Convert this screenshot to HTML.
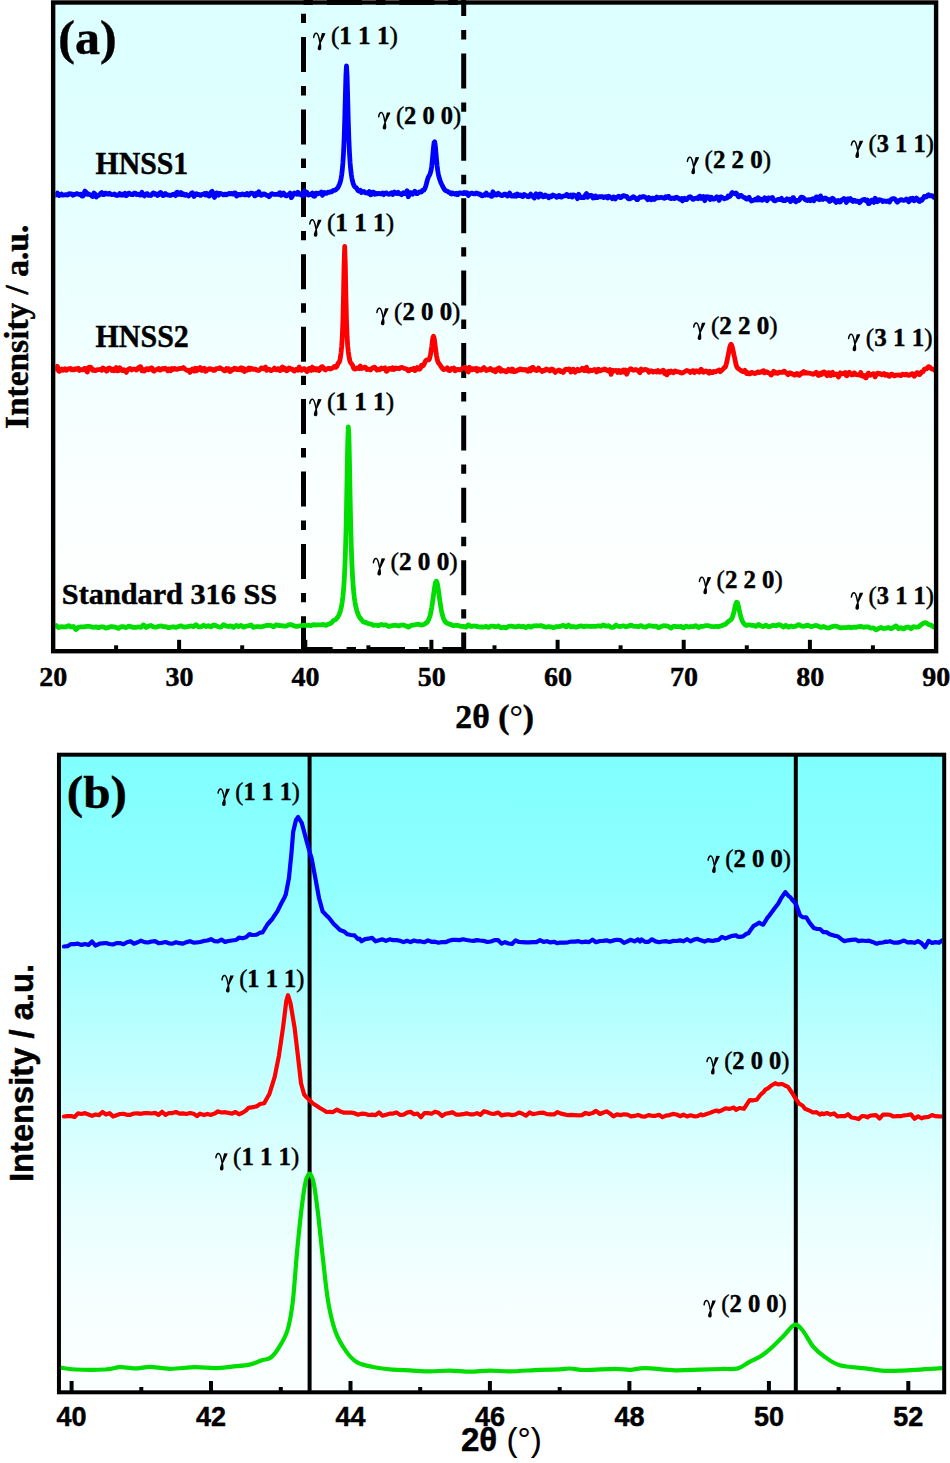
<!DOCTYPE html>
<html><head><meta charset="utf-8"><title>XRD</title>
<style>html,body{margin:0;padding:0;background:#fff;width:950px;height:1463px;overflow:hidden}svg{display:block}
text{font-weight:bold;fill:#000;stroke:#000;stroke-width:0.45px;stroke-linejoin:round}
.rg{font-weight:normal;stroke-width:0.15px}.rp{font-weight:normal;stroke-width:0.45px}.se{font-family:"Liberation Serif",serif}.sa{font-family:"Liberation Sans",sans-serif}</style>
</head><body>
<svg width="950" height="1463" viewBox="0 0 950 1463">
<defs>
<linearGradient id="ga" x1="0" y1="0" x2="0" y2="1"><stop offset="0.00" stop-color="#dcffff"/><stop offset="0.20" stop-color="#e0ffff"/><stop offset="0.40" stop-color="#eaffff"/><stop offset="0.60" stop-color="#f4ffff"/><stop offset="0.72" stop-color="#f9ffff"/><stop offset="0.85" stop-color="#fdffff"/><stop offset="1.00" stop-color="#feffff"/></linearGradient>
<linearGradient id="gb" x1="0" y1="0" x2="0" y2="1"><stop offset="0.00" stop-color="#80ffff"/><stop offset="0.20" stop-color="#90ffff"/><stop offset="0.40" stop-color="#b4ffff"/><stop offset="0.60" stop-color="#d8ffff"/><stop offset="0.72" stop-color="#e9ffff"/><stop offset="0.85" stop-color="#f6ffff"/><stop offset="1.00" stop-color="#fcffff"/></linearGradient>
<clipPath id="ca"><rect x="55.3" y="4.7" width="878.9" height="644.3"/></clipPath>
<clipPath id="cb"><rect x="61" y="756.7" width="881.3" height="633.7"/></clipPath>

</defs>
<rect width="950" height="1463" fill="#fff"/>
<rect x="53" y="2.5" width="883" height="648.6" fill="url(#ga)"/>
<rect x="59" y="754.7" width="885.2" height="637.6" fill="url(#gb)"/>
<line x1="303.5" y1="0" x2="303.5" y2="651" stroke="#000" stroke-width="5" stroke-dasharray="9.4 14 35 14" fill="none" stroke-dashoffset="58.7"/>
<line x1="463.7" y1="0" x2="463.7" y2="651" stroke="#000" stroke-width="5" stroke-dasharray="9.4 14 35 14" fill="none" stroke-dashoffset="42.4"/>
<line x1="303.5" y1="2.5" x2="463.7" y2="2.5" stroke="#000" stroke-width="5" stroke-dasharray="9.4 14 35 14" fill="none"/>
<line x1="303.5" y1="649.5" x2="463.7" y2="649.5" stroke="#000" stroke-width="5" stroke-dasharray="9.4 14 35 14" fill="none" stroke-dashoffset="29.3"/>
<g clip-path="url(#ca)" fill="none" stroke-width="4.8" stroke-linejoin="round" stroke-linecap="round">
<polyline stroke="#0000ff" points="55.5,195.2 56.1,194.9 56.7,193.9 57.3,193.0 57.9,193.9 58.5,195.2 59.1,195.5 59.7,195.2 60.3,194.8 60.9,194.2 61.5,194.0 62.1,194.7 62.7,195.2 63.3,195.1 63.9,195.0 64.5,194.9 65.1,194.9 65.7,194.7 66.3,194.6 66.9,194.7 67.5,195.0 68.1,194.8 68.7,194.0 69.3,193.6 69.9,194.0 70.5,194.2 71.1,194.1 71.7,193.9 72.3,194.5 72.9,195.2 73.5,195.0 74.1,194.7 74.7,194.4 75.3,194.2 75.9,194.0 76.5,193.7 77.1,193.6 77.7,193.9 78.3,194.2 78.9,194.3 79.5,194.5 80.1,194.3 80.7,194.2 81.3,194.9 81.9,195.9 82.5,196.1 83.1,195.9 83.7,194.7 84.3,192.5 84.9,191.1 85.5,191.6 86.1,192.2 86.7,193.2 87.3,194.3 87.9,194.1 88.5,194.0 89.1,194.3 89.7,194.6 90.3,194.8 90.9,194.8 91.5,195.3 92.1,196.5 92.7,196.6 93.3,194.7 93.9,193.1 94.5,193.6 95.1,194.0 95.7,195.4 96.3,196.9 96.9,196.4 97.5,195.6 98.1,195.3 98.7,195.3 99.3,195.0 99.9,194.3 100.5,193.6 101.1,192.9 101.7,192.5 102.3,193.6 102.9,194.7 103.5,194.7 104.1,194.6 104.7,194.0 105.3,193.2 105.9,193.1 106.5,193.4 107.1,193.8 107.7,194.1 108.3,194.2 108.9,193.7 109.5,193.3 110.1,193.9 110.7,194.4 111.3,194.5 111.9,194.6 112.5,194.6 113.1,194.5 113.7,194.3 114.3,194.0 114.9,194.2 115.5,194.8 116.1,195.3 116.7,195.5 117.3,195.6 117.9,195.2 118.5,194.9 119.1,194.2 119.7,193.5 120.3,194.2 120.9,195.1 121.5,194.9 122.1,194.2 122.7,194.2 123.3,195.1 123.9,195.2 124.5,194.1 125.1,193.3 125.7,194.5 126.3,195.7 126.9,195.1 127.5,194.6 128.1,193.8 128.7,193.1 129.3,193.2 129.9,193.8 130.5,194.2 131.1,194.4 131.7,194.6 132.3,194.7 132.9,194.7 133.5,194.0 134.1,193.2 134.7,193.1 135.3,193.1 135.9,193.7 136.5,194.5 137.1,194.5 137.7,194.1 138.3,194.1 138.9,194.5 139.5,194.9 140.1,195.2 140.7,195.2 141.3,193.8 141.9,192.3 142.5,193.5 143.1,194.6 143.7,195.3 144.3,195.9 144.9,195.5 145.5,194.6 146.1,193.9 146.7,193.6 147.3,193.7 147.9,194.7 148.5,195.4 149.1,195.1 149.7,194.8 150.3,195.2 150.9,195.6 151.5,195.0 152.1,194.3 152.7,193.6 153.3,192.9 153.9,193.0 154.5,193.8 155.1,194.3 155.7,194.1 156.3,194.0 156.9,194.8 157.5,195.5 158.1,195.1 158.7,194.8 159.3,193.8 159.9,192.7 160.5,192.5 161.1,192.8 161.7,193.6 162.3,194.8 162.9,195.6 163.5,195.5 164.1,195.2 164.7,194.4 165.3,193.6 165.9,194.0 166.5,194.4 167.1,194.7 167.7,195.0 168.3,195.1 168.9,195.1 169.5,195.2 170.1,195.4 170.7,195.5 171.3,195.1 171.9,194.8 172.5,194.6 173.1,194.4 173.7,194.3 174.3,194.2 174.9,194.8 175.5,195.6 176.1,194.5 176.7,192.5 177.3,192.2 177.9,193.5 178.5,194.3 179.1,194.4 179.7,194.4 180.3,193.5 180.9,192.6 181.5,193.7 182.1,194.7 182.7,194.4 183.3,193.8 183.9,194.2 184.5,195.1 185.1,195.3 185.7,194.7 186.3,194.5 186.9,194.9 187.5,195.4 188.1,195.7 188.7,196.0 189.3,195.5 189.9,195.0 190.5,194.3 191.1,193.6 191.7,193.1 192.3,192.7 192.9,193.5 193.5,195.4 194.1,196.4 194.7,195.3 195.3,194.3 195.9,193.9 196.5,193.6 197.1,194.1 197.7,194.6 198.3,194.5 198.9,194.3 199.5,194.6 200.1,195.3 200.7,195.3 201.3,194.8 201.9,194.5 202.5,194.5 203.1,194.4 203.7,194.0 204.3,193.5 204.9,194.2 205.5,195.0 206.1,194.3 206.7,193.4 207.3,193.8 207.9,194.8 208.5,195.6 209.1,196.1 209.7,195.8 210.3,194.0 210.9,192.4 211.5,191.8 212.1,191.3 212.7,193.1 213.3,195.0 213.9,196.2 214.5,197.4 215.1,196.3 215.7,194.2 216.3,193.1 216.9,192.9 217.5,193.2 218.1,194.3 218.7,195.1 219.3,194.2 219.9,193.4 220.5,193.6 221.1,193.8 221.7,193.9 222.3,194.0 222.9,194.4 223.5,194.9 224.1,194.9 224.7,194.3 225.3,194.1 225.9,194.5 226.5,194.8 227.1,194.5 227.7,194.2 228.3,193.8 228.9,193.4 229.5,193.6 230.1,193.9 230.7,193.8 231.3,193.4 231.9,193.5 232.5,194.1 233.1,194.2 233.7,193.6 234.3,193.0 234.9,193.0 235.5,193.0 236.1,194.6 236.7,196.1 237.3,195.6 237.9,194.7 238.5,194.4 239.1,194.4 239.7,194.5 240.3,194.9 240.9,194.9 241.5,194.4 242.1,193.9 242.7,194.0 243.3,194.1 243.9,194.5 244.5,194.9 245.1,194.9 245.7,194.8 246.3,194.2 246.9,193.4 247.5,193.5 248.1,194.7 248.7,195.2 249.3,194.4 249.9,193.6 250.5,193.3 251.1,193.1 251.7,193.2 252.3,193.3 252.9,193.5 253.5,193.8 254.1,194.7 254.7,195.9 255.3,195.7 255.9,194.0 256.5,193.2 257.1,194.0 257.7,194.4 258.3,193.0 258.9,191.7 259.5,192.9 260.1,194.2 260.7,194.9 261.3,195.4 261.9,195.1 262.5,194.4 263.1,194.0 263.7,193.8 264.3,193.8 264.9,194.3 265.5,194.7 266.1,195.0 266.7,195.3 267.3,195.3 267.9,195.3 268.5,195.9 269.1,196.7 269.7,196.2 270.3,195.2 270.9,194.4 271.5,193.9 272.1,193.7 272.7,194.0 273.3,194.2 273.9,194.3 274.5,194.3 275.1,194.4 275.7,194.5 276.3,194.4 276.9,194.4 277.5,194.4 278.1,194.5 278.7,194.0 279.3,193.0 279.9,192.7 280.5,194.2 281.1,195.3 281.7,194.4 282.3,193.6 282.9,193.3 283.5,192.9 284.1,193.7 284.7,194.8 285.3,195.4 285.9,195.8 286.5,195.8 287.1,195.3 287.7,194.9 288.3,194.7 288.9,194.4 289.5,193.8 290.1,193.1 290.7,195.3 291.3,197.6 291.9,196.9 292.5,195.8 293.1,194.6 293.7,193.4 294.3,193.0 294.9,193.2 295.5,193.5 296.1,194.0 296.7,194.2 297.3,193.3 297.9,192.3 298.5,193.3 299.1,194.3 299.7,194.1 300.3,193.8 300.9,194.3 301.5,195.2 302.1,195.6 302.7,195.5 303.3,194.7 303.9,192.6 304.5,191.1 305.1,192.6 305.7,194.2 306.3,193.2 306.9,192.3 307.5,193.4 308.1,194.9 308.7,195.1 309.3,194.5 309.9,194.4 310.5,194.6 311.1,194.4 311.7,193.5 312.3,193.0 312.9,194.6 313.5,196.1 314.1,196.2 314.7,196.3 315.3,194.9 315.9,193.2 316.5,193.1 317.1,193.9 317.7,193.9 318.3,193.4 318.9,193.1 319.5,193.4 320.1,193.5 320.7,192.8 321.3,192.1 321.9,193.7 322.5,195.3 323.1,194.3 323.7,192.8 324.3,192.5 324.9,192.8 325.5,193.1 326.1,193.4 326.7,193.4 327.3,192.8 327.9,192.2 328.5,192.3 329.1,192.4 329.7,192.1 330.3,191.9 330.9,191.8 331.5,191.9 332.1,191.4 332.7,190.8 333.3,190.5 333.9,190.5 334.5,190.4 335.1,190.1 335.7,189.8 336.3,189.2 336.9,188.6 337.5,188.0 338.1,187.2 338.7,186.0 339.3,184.6 339.9,183.1 340.5,181.1 341.1,178.4 341.7,174.6 342.3,169.6 342.9,162.9 343.5,153.4 344.1,140.1 344.7,121.7 345.3,98.6 345.9,76.0 346.5,65.8 347.1,75.9 347.7,98.6 348.3,121.8 348.9,140.2 349.5,153.3 350.1,162.7 350.7,169.4 351.3,174.3 351.9,178.1 352.5,181.1 353.1,183.2 353.7,184.9 354.3,186.1 354.9,186.9 355.5,187.4 356.1,187.6 356.7,188.3 357.3,189.6 357.9,190.6 358.5,190.9 359.1,191.1 359.7,190.7 360.3,190.3 360.9,191.4 361.5,192.5 362.1,192.3 362.7,191.8 363.3,191.6 363.9,191.5 364.5,191.8 365.1,192.5 365.7,192.9 366.3,192.8 366.9,192.8 367.5,193.1 368.1,193.4 368.7,192.5 369.3,191.6 369.9,193.0 370.5,194.8 371.1,194.6 371.7,193.4 372.3,192.5 372.9,192.1 373.5,192.1 374.1,193.3 374.7,194.2 375.3,193.7 375.9,193.2 376.5,193.6 377.1,194.0 377.7,193.8 378.3,193.4 378.9,193.4 379.5,193.6 380.1,193.8 380.7,193.9 381.3,193.9 381.9,193.3 382.5,193.0 383.1,193.8 383.7,194.6 384.3,194.0 384.9,193.4 385.5,193.1 386.1,192.9 386.7,193.1 387.3,193.7 387.9,194.0 388.5,194.2 389.1,194.3 389.7,193.9 390.3,193.5 390.9,193.2 391.5,192.8 392.1,193.6 392.7,194.5 393.3,193.5 393.9,192.2 394.5,192.0 395.1,192.4 395.7,192.9 396.3,193.5 396.9,193.6 397.5,192.8 398.1,192.3 398.7,193.1 399.3,193.8 399.9,193.8 400.5,193.7 401.1,194.1 401.7,194.7 402.3,194.2 402.9,193.2 403.5,192.7 404.1,192.9 404.7,193.1 405.3,193.6 405.9,193.8 406.5,192.3 407.1,190.7 407.7,193.7 408.3,196.7 408.9,195.4 409.5,193.4 410.1,192.7 410.7,192.6 411.3,193.0 411.9,193.8 412.5,194.2 413.1,193.6 413.7,193.1 414.3,192.1 414.9,191.2 415.5,192.3 416.1,193.5 416.7,193.7 417.3,193.7 417.9,193.2 418.5,192.4 419.1,192.0 419.7,192.0 420.3,192.0 420.9,192.1 421.5,192.0 422.1,191.1 422.7,190.2 423.3,190.3 423.9,190.1 424.5,189.2 425.1,187.9 425.7,186.2 426.3,184.2 426.9,181.9 427.5,179.7 428.1,177.7 428.7,176.4 429.3,175.5 429.9,174.3 430.5,172.5 431.1,170.1 431.7,166.3 432.3,160.7 432.9,154.0 433.5,147.3 434.1,142.6 434.7,141.9 435.3,145.6 435.9,152.1 436.5,159.2 437.1,165.5 437.7,170.4 438.3,173.9 438.9,176.7 439.5,178.8 440.1,180.5 440.7,182.2 441.3,183.5 441.9,184.7 442.5,185.9 443.1,187.2 443.7,188.3 444.3,189.3 444.9,190.1 445.5,190.5 446.1,190.8 446.7,191.0 447.3,191.2 447.9,191.7 448.5,192.2 449.1,192.4 449.7,192.3 450.3,192.7 450.9,193.7 451.5,194.1 452.1,193.5 452.7,193.0 453.3,193.3 453.9,193.5 454.5,193.9 455.1,194.3 455.7,193.9 456.3,193.3 456.9,193.7 457.5,194.7 458.1,194.6 458.7,193.6 459.3,192.8 459.9,192.8 460.5,192.8 461.1,193.1 461.7,193.3 462.3,193.5 462.9,193.7 463.5,193.1 464.1,192.4 464.7,192.7 465.3,193.5 465.9,193.5 466.5,192.6 467.1,192.6 467.7,194.3 468.3,195.6 468.9,194.8 469.5,194.0 470.1,193.7 470.7,193.4 471.3,193.3 471.9,193.1 472.5,193.3 473.1,193.6 473.7,193.8 474.3,193.9 474.9,193.9 475.5,193.4 476.1,193.0 476.7,193.1 477.3,193.2 477.9,193.6 478.5,194.1 479.1,194.0 479.7,193.8 480.3,194.4 480.9,195.2 481.5,195.7 482.1,195.8 482.7,195.7 483.3,195.1 483.9,194.6 484.5,194.9 485.1,195.2 485.7,194.1 486.3,193.1 486.9,193.9 487.5,195.0 488.1,195.2 488.7,194.8 489.3,194.8 489.9,195.1 490.5,195.5 491.1,196.2 491.7,196.4 492.3,194.1 492.9,191.8 493.5,193.3 494.1,194.9 494.7,194.4 495.3,193.7 495.9,194.1 496.5,195.1 497.1,195.0 497.7,193.9 498.3,193.3 498.9,193.8 499.5,194.3 500.1,194.7 500.7,195.2 501.3,195.4 501.9,195.7 502.5,195.5 503.1,195.2 503.7,194.7 504.3,194.2 504.9,194.1 505.5,194.2 506.1,194.6 506.7,195.5 507.3,196.1 507.9,195.6 508.5,195.1 509.1,194.1 509.7,193.1 510.3,194.2 510.9,195.7 511.5,196.0 512.1,195.8 512.7,195.8 513.3,196.1 513.9,196.1 514.5,195.4 515.1,194.9 515.7,195.6 516.3,196.3 516.9,195.2 517.5,194.1 518.1,194.7 518.7,195.7 519.3,195.6 519.9,195.0 520.5,195.0 521.1,195.7 521.7,196.3 522.3,196.5 522.9,196.5 523.5,195.4 524.1,194.4 524.7,194.8 525.3,195.3 525.9,195.4 526.5,195.5 527.1,195.9 527.7,196.6 528.3,196.8 528.9,196.6 529.5,196.0 530.1,194.9 530.7,194.1 531.3,195.1 531.9,196.1 532.5,196.3 533.1,196.5 533.7,197.2 534.3,198.0 534.9,196.8 535.5,194.6 536.1,193.8 536.7,194.5 537.3,195.3 537.9,196.4 538.5,197.1 539.1,195.5 539.7,193.9 540.3,194.0 540.9,194.1 541.5,195.0 542.1,196.0 542.7,196.6 543.3,196.9 543.9,196.6 544.5,195.6 545.1,195.1 545.7,195.9 546.3,196.4 546.9,196.2 547.5,196.0 548.1,196.8 548.7,197.7 549.3,197.1 549.9,196.2 550.5,196.3 551.1,196.9 551.7,196.6 552.3,195.5 552.9,194.9 553.5,195.3 554.1,195.7 554.7,195.8 555.3,195.8 555.9,196.6 556.5,197.3 557.1,197.2 557.7,196.9 558.3,196.2 558.9,195.4 559.5,195.5 560.1,196.4 560.7,197.0 561.3,197.0 561.9,197.0 562.5,196.5 563.1,196.0 563.7,195.9 564.3,195.8 564.9,195.8 565.5,195.9 566.1,195.3 566.7,194.4 567.3,194.5 567.9,195.7 568.5,196.5 569.1,196.5 569.7,196.4 570.3,195.8 570.9,195.1 571.5,196.1 572.1,197.1 572.7,196.2 573.3,194.9 573.9,194.9 574.5,195.4 575.1,195.6 575.7,195.7 576.3,196.2 576.9,197.7 577.5,198.6 578.1,196.4 578.7,194.3 579.3,195.6 579.9,196.9 580.5,197.3 581.1,197.6 581.7,197.4 582.3,197.1 582.9,197.2 583.5,197.7 584.1,197.6 584.7,196.3 585.3,195.1 585.9,194.3 586.5,193.6 587.1,195.4 587.7,197.2 588.3,196.6 588.9,195.4 589.5,195.4 590.1,195.9 590.7,195.9 591.3,195.4 591.9,195.5 592.5,196.9 593.1,198.0 593.7,197.9 594.3,197.8 594.9,196.9 595.5,195.9 596.1,196.6 596.7,197.6 597.3,197.6 597.9,197.1 598.5,196.8 599.1,196.7 599.7,196.6 600.3,196.8 600.9,196.8 601.5,196.7 602.1,196.5 602.7,197.0 603.3,197.5 603.9,197.5 604.5,197.3 605.1,197.0 605.7,196.6 606.3,196.8 606.9,197.6 607.5,197.9 608.1,196.9 608.7,196.2 609.3,196.7 609.9,197.3 610.5,197.4 611.1,197.5 611.7,198.0 612.3,198.7 612.9,198.1 613.5,196.9 614.1,197.0 614.7,198.4 615.3,198.9 615.9,198.0 616.5,197.2 617.1,197.0 617.7,196.8 618.3,196.5 618.9,196.2 619.5,196.8 620.1,197.6 620.7,197.6 621.3,197.3 621.9,196.8 622.5,196.1 623.1,195.7 623.7,195.7 624.3,195.7 624.9,196.1 625.5,196.4 626.1,196.4 626.7,196.3 627.3,197.2 627.9,198.3 628.5,198.7 629.1,198.9 629.7,198.9 630.3,198.6 630.9,198.3 631.5,198.0 632.1,197.6 632.7,197.2 633.3,196.7 633.9,197.0 634.5,197.3 635.1,197.8 635.7,198.3 636.3,199.0 636.9,199.7 637.5,199.7 638.1,199.0 638.7,198.3 639.3,197.6 639.9,197.0 640.5,197.2 641.1,197.4 641.7,197.1 642.3,196.8 642.9,196.6 643.5,196.5 644.1,196.7 644.7,197.0 645.3,197.3 645.9,197.6 646.5,198.1 647.1,199.0 647.7,199.7 648.3,198.6 648.9,197.6 649.5,198.4 650.1,199.2 650.7,199.5 651.3,199.8 651.9,199.2 652.5,198.2 653.1,198.1 653.7,199.1 654.3,199.5 654.9,199.0 655.5,198.4 656.1,197.8 656.7,197.1 657.3,197.5 657.9,197.9 658.5,197.9 659.1,197.7 659.7,197.6 660.3,197.5 660.9,197.4 661.5,197.4 662.1,197.5 662.7,197.7 663.3,197.9 663.9,198.1 664.5,198.3 665.1,197.5 665.7,196.7 666.3,197.1 666.9,197.6 667.5,197.2 668.1,196.3 668.7,196.4 669.3,197.4 669.9,198.2 670.5,198.5 671.1,198.6 671.7,198.3 672.3,198.1 672.9,198.1 673.5,198.2 674.1,198.4 674.7,198.6 675.3,198.2 675.9,197.4 676.5,197.2 677.1,197.4 677.7,197.8 678.3,198.2 678.9,198.7 679.5,199.0 680.1,199.3 680.7,198.9 681.3,198.6 681.9,199.6 682.5,200.9 683.1,200.3 683.7,198.7 684.3,198.2 684.9,198.9 685.5,199.4 686.1,199.6 686.7,199.6 687.3,198.7 687.9,197.9 688.5,197.5 689.1,197.1 689.7,196.9 690.3,196.7 690.9,197.1 691.5,197.9 692.1,198.6 692.7,199.2 693.3,199.4 693.9,198.9 694.5,198.5 695.1,198.5 695.7,198.4 696.3,198.1 696.9,197.8 697.5,198.2 698.1,198.7 698.7,197.9 699.3,196.3 699.9,196.2 700.5,197.6 701.1,198.5 701.7,198.4 702.3,198.2 702.9,197.3 703.5,196.5 704.1,198.6 704.7,200.7 705.3,199.3 705.9,197.2 706.5,196.6 707.1,196.8 707.7,196.9 708.3,196.8 708.9,197.2 709.5,198.6 710.1,199.5 710.7,198.4 711.3,197.2 711.9,198.1 712.5,199.0 713.1,199.1 713.7,199.1 714.3,198.9 714.9,198.7 715.5,198.2 716.1,197.3 716.7,196.8 717.3,197.2 717.9,197.8 718.5,199.1 719.1,200.4 719.7,198.6 720.3,196.9 720.9,196.9 721.5,197.1 722.1,197.4 722.7,197.8 723.3,198.2 723.9,198.7 724.5,198.8 725.1,198.4 725.7,198.1 726.3,198.2 726.9,198.2 727.5,197.1 728.1,196.0 728.7,196.3 729.3,196.7 729.9,196.3 730.5,195.6 731.1,194.5 731.7,193.1 732.3,192.5 732.9,192.9 733.5,193.4 734.1,193.4 734.7,193.8 735.3,193.3 735.9,192.9 736.5,193.5 737.1,194.5 737.7,195.5 738.3,196.7 738.9,196.9 739.5,196.1 740.1,195.5 740.7,195.5 741.3,195.5 741.9,196.0 742.5,196.5 743.1,197.0 743.7,197.5 744.3,197.6 744.9,197.7 745.5,198.2 746.1,198.9 746.7,199.2 747.3,199.0 747.9,198.7 748.5,197.8 749.1,197.3 749.7,198.4 750.3,199.4 750.9,200.2 751.5,201.0 752.1,200.8 752.7,200.4 753.3,200.3 753.9,200.2 754.5,199.8 755.1,199.3 755.7,199.1 756.3,199.7 756.9,200.0 757.5,198.8 758.1,197.7 758.7,198.7 759.3,199.8 759.9,199.5 760.5,199.0 761.1,199.4 761.7,200.1 762.3,200.3 762.9,199.9 763.5,199.3 764.1,198.4 764.7,197.8 765.3,198.5 765.9,199.2 766.5,199.9 767.1,200.6 767.7,199.5 768.3,198.1 768.9,197.9 769.5,198.3 770.1,198.4 770.7,198.3 771.3,198.0 771.9,197.6 772.5,197.5 773.1,199.0 773.7,200.4 774.3,200.7 774.9,200.9 775.5,200.7 776.1,200.4 776.7,200.1 777.3,199.7 777.9,199.5 778.5,199.3 779.1,199.3 779.7,199.5 780.3,199.5 780.9,198.9 781.5,198.4 782.1,199.4 782.7,200.3 783.3,200.6 783.9,200.7 784.5,200.7 785.1,200.6 785.7,200.1 786.3,199.3 786.9,198.8 787.5,199.2 788.1,199.5 788.7,199.4 789.3,199.2 789.9,200.4 790.5,201.6 791.1,201.0 791.7,200.0 792.3,198.9 792.9,197.7 793.5,197.7 794.1,199.1 794.7,200.3 795.3,201.2 795.9,201.8 796.5,201.1 797.1,200.4 797.7,200.5 798.3,200.7 798.9,200.3 799.5,199.8 800.1,198.8 800.7,197.6 801.3,197.1 801.9,197.2 802.5,197.4 803.1,197.7 803.7,198.1 804.3,198.8 804.9,199.5 805.5,199.7 806.1,200.0 806.7,200.3 807.3,200.5 807.9,200.2 808.5,199.6 809.1,199.6 809.7,200.4 810.3,200.7 810.9,200.0 811.5,199.3 812.1,199.1 812.7,198.8 813.3,199.8 813.9,200.7 814.5,200.0 815.1,199.0 815.7,197.9 816.3,196.8 816.9,196.8 817.5,197.8 818.1,198.7 818.7,199.4 819.3,199.7 819.9,197.8 820.5,195.9 821.1,197.5 821.7,199.1 822.3,199.4 822.9,199.5 823.5,199.0 824.1,198.4 824.7,198.1 825.3,198.0 825.9,198.2 826.5,198.8 827.1,199.3 827.7,199.3 828.3,199.3 828.9,200.4 829.5,201.4 830.1,201.2 830.7,200.7 831.3,199.7 831.9,198.6 832.5,198.2 833.1,198.6 833.7,199.3 834.3,200.2 834.9,201.1 835.5,201.8 836.1,202.5 836.7,201.6 837.3,200.7 837.9,200.6 838.5,200.5 839.1,201.1 839.7,202.1 840.3,202.0 840.9,200.9 841.5,200.1 842.1,199.9 842.7,199.7 843.3,199.0 843.9,198.4 844.5,198.9 845.1,199.5 845.7,200.9 846.3,202.5 846.9,201.6 847.5,199.5 848.1,198.8 848.7,199.7 849.3,200.0 849.9,199.2 850.5,198.6 851.1,199.5 851.7,200.5 852.3,200.9 852.9,201.4 853.5,200.9 854.1,200.2 854.7,200.4 855.3,201.0 855.9,201.3 856.5,201.3 857.1,201.2 857.7,201.1 858.3,201.1 858.9,201.9 859.5,202.6 860.1,202.1 860.7,201.5 861.3,200.9 861.9,200.3 862.5,199.9 863.1,199.7 863.7,199.5 864.3,199.4 864.9,199.6 865.5,200.4 866.1,201.0 866.7,200.6 867.3,200.1 867.9,201.9 868.5,203.7 869.1,203.6 869.7,203.1 870.3,202.1 870.9,200.9 871.5,200.2 872.1,200.2 872.7,200.6 873.3,201.8 873.9,202.4 874.5,200.3 875.1,198.2 875.7,199.0 876.3,199.9 876.9,200.7 877.5,201.6 878.1,201.1 878.7,200.0 879.3,199.6 879.9,199.9 880.5,200.1 881.1,200.2 881.7,200.3 882.3,200.9 882.9,201.6 883.5,201.2 884.1,200.9 884.7,201.0 885.3,201.2 885.9,201.3 886.5,201.5 887.1,201.3 887.7,201.0 888.3,201.0 888.9,201.7 889.5,202.0 890.1,200.9 890.7,199.9 891.3,199.4 891.9,199.0 892.5,198.8 893.1,198.6 893.7,198.6 894.3,198.7 894.9,199.1 895.5,199.7 896.1,200.4 896.7,201.4 897.3,202.1 897.9,201.6 898.5,201.1 899.1,200.6 899.7,200.2 900.3,199.9 900.9,199.6 901.5,199.7 902.1,200.0 902.7,200.2 903.3,200.3 903.9,200.3 904.5,200.2 905.1,200.0 905.7,199.5 906.3,199.0 906.9,199.5 907.5,200.0 908.1,200.8 908.7,201.7 909.3,200.7 909.9,198.9 910.5,198.5 911.1,199.6 911.7,199.9 912.3,198.9 912.9,198.2 913.5,199.4 914.1,200.7 914.7,200.1 915.3,199.6 915.9,198.8 916.5,198.1 917.1,198.6 917.7,199.7 918.3,200.6 918.9,201.4 919.5,201.5 920.1,200.5 920.7,199.7 921.3,200.0 921.9,200.2 922.5,199.4 923.1,198.5 923.7,197.4 924.3,196.3 924.9,196.4 925.5,197.1 926.1,197.0 926.7,196.4 927.3,195.7 927.9,195.1 928.5,194.7 929.1,195.2 929.7,195.9 930.3,195.7 930.9,195.7 931.5,195.6 932.1,195.6 932.7,196.1 933.3,197.0 933.9,197.3 934.5,197.0 935.1,197.1"/>
<polyline stroke="#ff0000" points="55.5,368.7 56.1,368.8 56.7,367.5 57.3,366.3 57.9,368.2 58.5,370.8 59.1,371.4 59.7,371.0 60.3,370.3 60.9,369.5 61.5,369.1 62.1,369.8 62.7,370.3 63.3,370.0 63.9,369.7 64.5,369.2 65.1,368.7 65.7,369.3 66.3,370.3 66.9,370.1 67.5,369.3 68.1,368.9 68.7,368.9 69.3,368.8 69.9,368.5 70.5,368.4 71.1,369.2 71.7,369.9 72.3,369.6 72.9,369.2 73.5,369.5 74.1,369.9 74.7,369.6 75.3,368.9 75.9,368.7 76.5,369.2 77.1,369.3 77.7,368.7 78.3,368.3 78.9,369.4 79.5,370.4 80.1,370.0 80.7,369.6 81.3,369.6 81.9,369.7 82.5,369.8 83.1,369.8 83.7,369.4 84.3,368.6 84.9,368.4 85.5,369.4 86.1,370.5 86.7,371.2 87.3,372.0 87.9,369.8 88.5,367.6 89.1,367.1 89.7,367.1 90.3,367.2 90.9,367.3 91.5,368.1 92.1,369.5 92.7,370.3 93.3,369.8 93.9,369.6 94.5,370.2 95.1,370.7 95.7,370.5 96.3,370.3 96.9,370.0 97.5,369.7 98.1,369.6 98.7,369.7 99.3,369.6 99.9,369.3 100.5,369.3 101.1,369.9 101.7,370.3 102.3,369.1 102.9,367.9 103.5,368.3 104.1,368.7 104.7,369.1 105.3,369.5 105.9,370.3 106.5,371.2 107.1,370.9 107.7,369.4 108.3,368.3 108.9,368.1 109.5,368.0 110.1,368.3 110.7,368.6 111.3,369.5 111.9,370.4 112.5,370.0 113.1,369.3 113.7,369.7 114.3,370.6 114.9,370.1 115.5,368.2 116.1,367.5 116.7,369.3 117.3,370.8 117.9,370.7 118.5,370.7 119.1,369.2 119.7,367.7 120.3,368.3 120.9,369.2 121.5,370.0 122.1,370.6 122.7,370.6 123.3,369.9 123.9,369.6 124.5,370.2 125.1,370.8 125.7,371.6 126.3,372.4 126.9,371.2 127.5,369.9 128.1,369.4 128.7,369.1 129.3,368.8 129.9,368.5 130.5,368.8 131.1,369.6 131.7,370.0 132.3,369.5 132.9,369.1 133.5,369.1 134.1,369.1 134.7,369.2 135.3,369.2 135.9,369.6 136.5,370.1 137.1,369.5 137.7,368.5 138.3,367.8 138.9,367.6 139.5,367.2 140.1,366.7 140.7,366.6 141.3,368.7 141.9,370.9 142.5,370.2 143.1,369.6 143.7,370.2 144.3,371.0 144.9,370.7 145.5,369.8 146.1,369.1 146.7,368.7 147.3,368.6 147.9,369.4 148.5,369.9 149.1,369.6 149.7,369.3 150.3,368.6 150.9,367.9 151.5,367.9 152.1,368.1 152.7,369.3 153.3,370.9 153.9,371.2 154.5,370.4 155.1,369.8 155.7,369.9 156.3,369.8 156.9,369.4 157.5,369.0 158.1,368.8 158.7,368.5 159.3,369.3 159.9,370.2 160.5,370.1 161.1,369.5 161.7,369.0 162.3,368.7 162.9,368.5 163.5,368.9 164.1,369.1 164.7,368.7 165.3,368.2 165.9,368.9 166.5,369.5 167.1,370.1 167.7,370.7 168.3,370.1 168.9,368.9 169.5,369.0 170.1,370.3 170.7,370.8 171.3,369.6 171.9,368.6 172.5,369.1 173.1,369.6 173.7,369.0 174.3,368.4 174.9,368.6 175.5,369.0 176.1,369.2 176.7,369.4 177.3,369.3 177.9,369.0 178.5,368.8 179.1,368.6 179.7,368.5 180.3,368.5 180.9,368.5 181.5,368.4 182.1,368.3 182.7,368.0 183.3,367.5 183.9,367.9 184.5,368.7 185.1,369.2 185.7,369.6 186.3,370.0 186.9,370.3 187.5,370.5 188.1,370.4 188.7,370.2 189.3,371.3 189.9,372.4 190.5,371.5 191.1,370.2 191.7,369.5 192.3,369.0 192.9,369.5 193.5,370.9 194.1,371.2 194.7,369.5 195.3,368.2 195.9,369.4 196.5,370.7 197.1,369.5 197.7,368.4 198.3,368.8 198.9,369.6 199.5,368.9 200.1,367.5 200.7,367.7 201.3,369.4 201.9,370.4 202.5,369.7 203.1,369.1 203.7,368.6 204.3,368.2 204.9,369.7 205.5,371.3 206.1,371.1 206.7,370.6 207.3,370.1 207.9,369.7 208.5,369.2 209.1,368.8 209.7,368.6 210.3,369.0 210.9,369.3 211.5,369.3 212.1,369.2 212.7,369.7 213.3,370.3 213.9,370.4 214.5,370.4 215.1,369.9 215.7,369.0 216.3,368.6 216.9,368.7 217.5,368.7 218.1,368.7 218.7,368.6 219.3,368.2 219.9,367.7 220.5,368.1 221.1,368.6 221.7,368.9 222.3,369.2 222.9,369.6 223.5,370.1 224.1,370.5 224.7,370.9 225.3,370.7 225.9,369.4 226.5,368.5 227.1,369.3 227.7,370.1 228.3,369.5 228.9,368.9 229.5,370.1 230.1,371.6 230.7,371.3 231.3,370.0 231.9,369.5 232.5,369.8 233.1,369.8 233.7,368.9 234.3,368.2 234.9,368.3 235.5,368.4 236.1,369.0 236.7,369.6 237.3,369.4 237.9,369.0 238.5,369.2 239.1,369.7 239.7,369.3 240.3,368.2 240.9,367.8 241.5,369.2 242.1,370.1 242.7,369.2 243.3,368.3 243.9,369.8 244.5,371.4 245.1,370.7 245.7,369.5 246.3,369.6 246.9,370.4 247.5,370.1 248.1,368.6 248.7,368.0 249.3,369.1 249.9,369.8 250.5,369.1 251.1,368.3 251.7,368.5 252.3,368.8 252.9,369.0 253.5,369.4 254.1,369.3 254.7,369.1 255.3,369.2 255.9,369.5 256.5,369.9 257.1,370.1 257.7,370.4 258.3,370.3 258.9,370.3 259.5,369.8 260.1,369.4 260.7,368.7 261.3,367.9 261.9,367.9 262.5,368.2 263.1,368.6 263.7,368.9 264.3,368.8 264.9,367.6 265.5,367.0 266.1,368.7 266.7,370.4 267.3,369.8 267.9,369.2 268.5,369.1 269.1,369.1 269.7,369.6 270.3,370.3 270.9,370.6 271.5,370.4 272.1,370.2 272.7,369.9 273.3,369.6 273.9,368.9 274.5,368.1 275.1,368.9 275.7,369.7 276.3,369.8 276.9,369.9 277.5,369.4 278.1,368.6 278.7,368.8 279.3,370.0 279.9,370.6 280.5,370.3 281.1,369.8 281.7,368.3 282.3,366.9 282.9,368.1 283.5,369.4 284.1,368.9 284.7,368.1 285.3,368.7 285.9,370.2 286.5,370.8 287.1,370.6 287.7,370.1 288.3,368.9 288.9,368.0 289.5,368.1 290.1,368.3 290.7,368.8 291.3,369.4 291.9,369.4 292.5,369.2 293.1,369.8 293.7,370.8 294.3,371.1 294.9,370.6 295.5,370.1 296.1,369.5 296.7,369.1 297.3,369.6 297.9,370.1 298.5,368.6 299.1,367.0 299.7,367.9 300.3,369.3 300.9,370.0 301.5,370.3 302.1,370.1 302.7,369.5 303.3,369.0 303.9,368.7 304.5,368.6 305.1,369.3 305.7,370.0 306.3,370.8 306.9,371.6 307.5,370.9 308.1,369.9 308.7,369.0 309.3,368.3 309.9,368.6 310.5,370.1 311.1,370.4 311.7,368.5 312.3,367.1 312.9,368.5 313.5,369.9 314.1,369.2 314.7,368.6 315.3,369.2 315.9,370.0 316.5,369.6 317.1,368.6 317.7,368.7 318.3,369.9 318.9,370.5 319.5,369.9 320.1,369.2 320.7,368.1 321.3,366.9 321.9,366.8 322.5,366.6 323.1,367.4 323.7,368.2 324.3,369.1 324.9,369.9 325.5,370.0 326.1,369.3 326.7,368.8 327.3,368.8 327.9,368.6 328.5,368.4 329.1,368.2 329.7,368.6 330.3,369.0 330.9,368.8 331.5,368.5 332.1,368.2 332.7,368.0 333.3,367.5 333.9,366.8 334.5,366.5 335.1,367.1 335.7,367.4 336.3,367.0 336.9,366.4 337.5,364.8 338.1,363.1 338.7,362.8 339.3,362.2 339.9,360.1 340.5,356.8 341.1,352.5 341.7,346.2 342.3,336.5 342.9,320.9 343.5,296.3 344.1,264.4 344.7,246.5 345.3,264.5 345.9,296.6 346.5,321.1 347.1,336.5 347.7,346.0 348.3,351.8 348.9,355.9 349.5,359.3 350.1,361.7 350.7,362.8 351.3,363.5 351.9,364.3 352.5,365.0 353.1,366.8 353.7,368.6 354.3,369.0 354.9,369.1 355.5,369.0 356.1,368.7 356.7,368.4 357.3,367.9 357.9,367.7 358.5,368.4 359.1,368.7 359.7,367.4 360.3,365.9 360.9,367.2 361.5,368.5 362.1,368.4 362.7,368.0 363.3,367.7 363.9,367.5 364.5,367.3 365.1,367.1 365.7,367.4 366.3,368.6 366.9,369.6 367.5,369.3 368.1,369.1 368.7,369.2 369.3,369.3 369.9,369.6 370.5,370.0 371.1,369.5 371.7,368.6 372.3,368.0 372.9,367.8 373.5,367.6 374.1,367.3 374.7,367.2 375.3,368.0 375.9,368.8 376.5,369.4 377.1,370.1 377.7,369.8 378.3,369.2 378.9,369.4 379.5,369.8 380.1,369.5 380.7,368.5 381.3,368.0 381.9,368.4 382.5,368.7 383.1,368.5 383.7,368.3 384.3,368.1 384.9,367.8 385.5,369.2 386.1,371.0 386.7,371.3 387.3,370.7 387.9,369.9 388.5,369.0 389.1,368.4 389.7,368.4 390.3,368.4 390.9,368.8 391.5,369.3 392.1,368.5 392.7,367.7 393.3,368.4 393.9,369.5 394.5,369.2 395.1,368.2 395.7,368.0 396.3,368.5 396.9,368.7 397.5,368.4 398.1,368.1 398.7,368.4 399.3,368.7 399.9,368.2 400.5,367.7 401.1,367.5 401.7,367.4 402.3,367.6 402.9,367.9 403.5,368.2 404.1,368.3 404.7,368.5 405.3,368.7 405.9,368.9 406.5,369.1 407.1,369.3 407.7,370.1 408.3,370.9 408.9,370.7 409.5,370.3 410.1,369.7 410.7,369.1 411.3,369.1 411.9,369.6 412.5,369.7 413.1,368.9 413.7,368.4 414.3,369.5 414.9,370.6 415.5,370.1 416.1,369.6 416.7,368.6 417.3,367.5 417.9,367.9 418.5,368.9 419.1,369.3 419.7,369.2 420.3,368.5 420.9,366.6 421.5,365.2 422.1,365.8 422.7,366.1 423.3,365.5 423.9,364.7 424.5,363.3 425.1,361.8 425.7,360.8 426.3,360.2 426.9,359.9 427.5,359.9 428.1,359.9 428.7,359.9 429.3,359.2 429.9,357.3 430.5,354.5 431.1,351.0 431.7,346.8 432.3,341.7 432.9,337.7 433.5,336.2 434.1,337.9 434.7,341.9 435.3,346.7 435.9,351.4 436.5,355.6 437.1,358.9 437.7,361.1 438.3,362.5 438.9,363.5 439.5,364.1 440.1,365.0 440.7,365.9 441.3,366.9 441.9,367.8 442.5,368.6 443.1,369.3 443.7,369.6 444.3,369.3 444.9,369.0 445.5,369.1 446.1,369.1 446.7,368.5 447.3,367.9 447.9,368.9 448.5,370.2 449.1,370.6 449.7,370.6 450.3,370.1 450.9,369.1 451.5,368.5 452.1,368.8 452.7,369.0 453.3,368.5 453.9,368.0 454.5,369.4 455.1,370.8 455.7,370.5 456.3,370.0 456.9,369.6 457.5,369.3 458.1,369.3 458.7,369.6 459.3,369.8 459.9,369.9 460.5,369.8 461.1,369.3 461.7,368.8 462.3,368.4 462.9,367.9 463.5,367.8 464.1,367.8 464.7,367.6 465.3,367.4 465.9,367.9 466.5,369.2 467.1,370.4 467.7,371.4 468.3,371.9 468.9,369.6 469.5,367.3 470.1,368.4 470.7,369.5 471.3,369.8 471.9,369.9 472.5,369.5 473.1,368.7 473.7,368.6 474.3,369.3 474.9,369.5 475.5,368.8 476.1,368.4 476.7,369.7 477.3,371.1 477.9,370.0 478.5,369.0 479.1,369.2 479.7,369.6 480.3,369.9 480.9,370.3 481.5,370.1 482.1,369.5 482.7,368.8 483.3,368.0 483.9,367.5 484.5,368.2 485.1,369.0 485.7,369.7 486.3,370.5 486.9,370.2 487.5,369.7 488.1,369.7 488.7,369.9 489.3,369.6 489.9,368.8 490.5,368.5 491.1,369.3 491.7,369.9 492.3,370.3 492.9,370.6 493.5,370.2 494.1,369.8 494.7,370.7 495.3,371.8 495.9,371.4 496.5,370.1 497.1,369.2 497.7,368.7 498.3,368.3 498.9,368.0 499.5,368.0 500.1,369.6 500.7,371.3 501.3,370.6 501.9,369.8 502.5,370.3 503.1,370.9 503.7,370.9 504.3,370.6 504.9,370.8 505.5,371.5 506.1,371.9 506.7,371.6 507.3,371.3 507.9,370.3 508.5,369.4 509.1,369.8 509.7,370.2 510.3,370.6 510.9,371.1 511.5,370.4 512.1,369.0 512.7,369.1 513.3,370.7 513.9,371.7 514.5,371.6 515.1,371.4 515.7,371.3 516.3,371.2 516.9,370.5 517.5,369.8 518.1,369.9 518.7,370.2 519.3,369.8 519.9,368.9 520.5,368.9 521.1,369.6 521.7,369.9 522.3,369.5 522.9,369.3 523.5,369.7 524.1,370.1 524.7,369.8 525.3,369.4 525.9,369.7 526.5,370.2 527.1,370.7 527.7,371.3 528.3,370.8 528.9,369.3 529.5,368.8 530.1,370.1 530.7,370.9 531.3,369.2 531.9,367.5 532.5,367.4 533.1,367.3 533.7,368.3 534.3,369.5 534.9,370.0 535.5,370.0 536.1,370.2 536.7,370.5 537.3,370.2 537.9,369.0 538.5,368.1 539.1,369.1 539.7,370.0 540.3,370.1 540.9,370.3 541.5,370.8 542.1,371.5 542.7,371.2 543.3,370.4 543.9,370.2 544.5,370.6 545.1,370.5 545.7,369.6 546.3,369.0 546.9,369.5 547.5,369.9 548.1,369.8 548.7,369.6 549.3,370.2 549.9,370.9 550.5,370.4 551.1,369.4 551.7,369.0 552.3,369.1 552.9,369.4 553.5,370.3 554.1,371.1 554.7,371.8 555.3,372.5 555.9,371.7 556.5,370.9 557.1,370.7 557.7,370.7 558.3,370.4 558.9,370.0 559.5,370.2 560.1,371.1 560.7,371.6 561.3,371.3 561.9,371.1 562.5,371.8 563.1,372.5 563.7,371.7 564.3,370.9 564.9,370.1 565.5,369.3 566.1,369.2 566.7,369.5 567.3,369.5 567.9,369.2 568.5,369.0 569.1,368.9 569.7,369.0 570.3,370.5 570.9,372.0 571.5,371.7 572.1,371.5 572.7,370.4 573.3,369.2 573.9,370.0 574.5,371.8 575.1,372.2 575.7,371.3 576.3,370.5 576.9,369.8 577.5,369.3 578.1,370.1 578.7,370.9 579.3,370.6 579.9,370.4 580.5,370.0 581.1,369.6 581.7,369.0 582.3,368.3 582.9,368.5 583.5,369.7 584.1,370.6 584.7,370.7 585.3,370.6 585.9,368.8 586.5,367.1 587.1,369.0 587.7,370.9 588.3,371.2 588.9,371.3 589.5,370.9 590.1,370.2 590.7,370.1 591.3,370.4 591.9,370.6 592.5,370.4 593.1,370.1 593.7,369.8 594.3,369.4 594.9,369.7 595.5,370.0 596.1,370.9 596.7,372.0 597.3,371.2 597.9,369.5 598.5,369.2 599.1,370.2 599.7,370.9 600.3,370.8 600.9,370.7 601.5,370.2 602.1,369.7 602.7,369.9 603.3,370.0 603.9,369.6 604.5,369.0 605.1,369.1 605.7,369.4 606.3,369.8 606.9,370.4 607.5,370.8 608.1,371.0 608.7,371.0 609.3,370.3 609.9,369.6 610.5,371.9 611.1,374.3 611.7,372.9 612.3,370.7 612.9,370.3 613.5,370.7 614.1,370.8 614.7,370.6 615.3,370.5 615.9,370.4 616.5,370.5 617.1,371.5 617.7,372.5 618.3,371.5 618.9,370.4 619.5,371.2 620.1,372.2 620.7,372.5 621.3,372.4 621.9,371.7 622.5,370.4 623.1,370.0 623.7,371.2 624.3,372.1 624.9,371.1 625.5,370.1 626.1,372.2 626.7,374.2 627.3,373.0 627.9,371.1 628.5,370.3 629.1,370.0 629.7,369.5 630.3,368.9 630.9,368.7 631.5,369.1 632.1,369.5 632.7,369.9 633.3,370.3 633.9,370.1 634.5,369.8 635.1,369.7 635.7,369.6 636.3,369.7 636.9,370.1 637.5,370.4 638.1,370.7 638.7,371.2 639.3,372.2 639.9,372.7 640.5,370.9 641.1,369.0 641.7,369.7 642.3,370.4 642.9,370.3 643.5,370.1 644.1,369.8 644.7,369.5 645.3,369.4 645.9,369.5 646.5,369.7 647.1,369.9 647.7,370.3 648.3,371.3 648.9,372.2 649.5,371.7 650.1,371.2 650.7,370.9 651.3,370.7 651.9,371.1 652.5,371.8 653.1,372.1 653.7,371.9 654.3,371.6 654.9,371.4 655.5,371.2 656.1,371.5 656.7,371.9 657.3,371.2 657.9,370.5 658.5,371.1 659.1,372.0 659.7,372.2 660.3,372.1 660.9,371.8 661.5,371.3 662.1,370.8 662.7,370.3 663.3,370.2 663.9,371.9 664.5,373.5 665.1,372.7 665.7,371.8 666.3,373.1 666.9,374.9 667.5,374.0 668.1,371.8 668.7,371.2 669.3,372.1 669.9,372.5 670.5,371.7 671.1,371.1 671.7,371.6 672.3,372.0 672.9,372.3 673.5,372.7 674.1,371.9 674.7,371.0 675.3,370.9 675.9,371.4 676.5,371.6 677.1,371.8 677.7,371.9 678.3,371.9 678.9,371.9 679.5,372.2 680.1,372.5 680.7,372.8 681.3,373.0 681.9,373.0 682.5,372.9 683.1,372.6 683.7,372.3 684.3,371.9 684.9,371.6 685.5,371.2 686.1,370.8 686.7,370.4 687.3,370.7 687.9,370.9 688.5,371.0 689.1,371.2 689.7,371.8 690.3,372.5 690.9,372.3 691.5,371.7 692.1,371.2 692.7,370.6 693.3,370.7 693.9,371.8 694.5,372.6 695.1,371.7 695.7,370.9 696.3,370.9 696.9,370.9 697.5,371.2 698.1,371.5 698.7,371.9 699.3,372.3 699.9,371.7 700.5,370.0 701.1,369.2 701.7,369.9 702.3,370.7 702.9,371.4 703.5,372.2 704.1,371.8 704.7,371.5 705.3,371.2 705.9,370.9 706.5,371.0 707.1,371.2 707.7,371.8 708.3,372.9 708.9,373.2 709.5,372.2 710.1,371.4 710.7,372.1 711.3,372.7 711.9,372.7 712.5,372.7 713.1,372.1 713.7,371.4 714.3,371.5 714.9,371.9 715.5,371.9 716.1,371.4 716.7,371.0 717.3,370.8 717.9,370.7 718.5,370.3 719.1,370.0 719.7,370.9 720.3,371.7 720.9,371.2 721.5,370.4 722.1,369.9 722.7,369.5 723.3,368.8 723.9,368.0 724.5,367.4 725.1,367.2 725.7,366.2 726.3,364.0 726.9,361.4 727.5,358.6 728.1,355.6 728.7,352.4 729.3,349.4 729.9,346.7 730.5,344.9 731.1,344.3 731.7,345.1 732.3,347.1 732.9,349.7 733.5,352.6 734.1,355.5 734.7,358.0 735.3,361.1 735.9,364.0 736.5,366.0 737.1,367.4 737.7,368.2 738.3,368.5 738.9,368.9 739.5,369.5 740.1,370.0 740.7,370.4 741.3,370.7 741.9,371.2 742.5,371.6 743.1,371.6 743.7,371.5 744.3,371.0 744.9,370.3 745.5,371.1 746.1,372.9 746.7,373.5 747.3,372.9 747.9,372.7 748.5,373.3 749.1,373.8 749.7,373.8 750.3,373.8 750.9,373.1 751.5,372.3 752.1,372.4 752.7,372.8 753.3,373.1 753.9,373.3 754.5,373.5 755.1,373.5 755.7,373.4 756.3,372.9 756.9,372.4 757.5,372.1 758.1,371.9 758.7,372.3 759.3,372.7 759.9,372.4 760.5,371.9 761.1,371.8 761.7,372.0 762.3,371.7 762.9,370.8 763.5,370.7 764.1,371.9 764.7,372.8 765.3,372.2 765.9,371.6 766.5,371.9 767.1,372.1 767.7,372.5 768.3,372.8 768.9,373.0 769.5,373.2 770.1,373.8 770.7,374.8 771.3,375.1 771.9,374.1 772.5,373.1 773.1,372.2 773.7,371.2 774.3,372.1 774.9,373.1 775.5,372.9 776.1,372.5 776.7,372.7 777.3,373.3 777.9,373.3 778.5,372.7 779.1,372.2 779.7,372.2 780.3,372.3 780.9,372.4 781.5,372.5 782.1,372.4 782.7,372.4 783.3,371.8 783.9,371.1 784.5,371.3 785.1,372.0 785.7,372.6 786.3,373.0 786.9,373.5 787.5,374.2 788.1,374.7 788.7,373.8 789.3,372.9 789.9,372.9 790.5,372.8 791.1,373.3 791.7,373.9 792.3,374.1 792.9,374.0 793.5,374.4 794.1,375.0 794.7,375.2 795.3,374.6 795.9,374.1 796.5,373.7 797.1,373.4 797.7,374.2 798.3,375.0 798.9,375.2 799.5,375.4 800.1,374.6 800.7,373.4 801.3,373.0 801.9,373.4 802.5,373.3 803.1,372.2 803.7,371.5 804.3,372.3 804.9,373.1 805.5,372.8 806.1,372.5 806.7,372.8 807.3,373.2 807.9,373.2 808.5,373.1 809.1,373.1 809.7,373.3 810.3,373.4 810.9,373.5 811.5,373.6 812.1,373.9 812.7,374.3 813.3,374.2 813.9,374.0 814.5,373.6 815.1,373.1 815.7,372.7 816.3,372.3 816.9,372.8 817.5,374.3 818.1,375.4 818.7,375.5 819.3,375.4 819.9,374.3 820.5,373.2 821.1,373.8 821.7,374.5 822.3,373.5 822.9,372.3 823.5,371.9 824.1,371.9 824.7,372.2 825.3,373.0 825.9,373.9 826.5,374.9 827.1,375.6 827.7,374.1 828.3,372.6 828.9,372.7 829.5,372.9 830.1,374.1 830.7,375.6 831.3,374.7 831.9,372.6 832.5,372.3 833.1,373.8 833.7,374.8 834.3,374.8 834.9,374.6 835.5,374.2 836.1,373.8 836.7,374.1 837.3,374.3 837.9,375.6 838.5,377.0 839.1,376.0 839.7,373.8 840.3,372.9 840.9,373.4 841.5,373.8 842.1,373.8 842.7,373.8 843.3,373.6 843.9,373.3 844.5,372.9 845.1,372.6 845.7,374.0 846.3,375.7 846.9,375.8 847.5,375.0 848.1,374.0 848.7,372.8 849.3,372.2 849.9,372.9 850.5,373.5 851.1,374.2 851.7,374.9 852.3,374.9 852.9,374.9 853.5,374.0 854.1,372.9 854.7,373.1 855.3,373.9 855.9,374.4 856.5,374.6 857.1,374.8 857.7,374.9 858.3,374.9 858.9,375.0 859.5,375.0 860.1,373.7 860.7,372.4 861.3,374.0 861.9,376.2 862.5,376.2 863.1,375.3 863.7,375.3 864.3,376.2 864.9,377.1 865.5,377.7 866.1,377.9 866.7,376.2 867.3,374.4 867.9,373.8 868.5,373.1 869.1,374.1 869.7,375.3 870.3,375.3 870.9,374.7 871.5,374.3 872.1,374.2 872.7,374.0 873.3,373.6 873.9,373.6 874.5,375.2 875.1,376.9 875.7,375.6 876.3,374.4 876.9,373.7 877.5,373.1 878.1,373.3 878.7,373.9 879.3,374.0 879.9,373.6 880.5,373.6 881.1,374.3 881.7,374.9 882.3,374.6 882.9,374.3 883.5,373.9 884.1,373.5 884.7,374.3 885.3,375.3 885.9,375.1 886.5,374.4 887.1,374.4 887.7,375.3 888.3,375.9 888.9,376.2 889.5,376.3 890.1,375.4 890.7,374.4 891.3,374.3 891.9,374.1 892.5,374.5 893.1,375.0 893.7,375.5 894.3,375.9 894.9,375.8 895.5,375.3 896.1,375.0 896.7,375.1 897.3,375.1 897.9,375.0 898.5,374.9 899.1,375.1 899.7,375.3 900.3,375.5 900.9,375.7 901.5,375.2 902.1,374.5 902.7,374.2 903.3,374.3 903.9,374.5 904.5,374.8 905.1,374.9 905.7,374.5 906.3,374.1 906.9,374.5 907.5,374.9 908.1,375.2 908.7,375.4 909.3,375.2 909.9,374.8 910.5,374.5 911.1,374.1 911.7,373.8 912.3,373.7 912.9,373.8 913.5,375.1 914.1,376.3 914.7,375.7 915.3,375.1 915.9,374.1 916.5,373.0 917.1,372.6 917.7,372.6 918.3,373.1 918.9,374.1 919.5,374.6 920.1,374.1 920.7,373.5 921.3,372.6 921.9,371.7 922.5,371.7 923.1,371.7 923.7,370.5 924.3,369.3 924.9,368.9 925.5,369.0 926.1,368.9 926.7,368.7 927.3,368.3 927.9,367.3 928.5,366.6 929.1,366.8 929.7,367.1 930.3,367.6 930.9,368.3 931.5,368.7 932.1,369.1 932.7,369.2 933.3,369.1 933.9,369.4 934.5,370.1 935.1,370.8"/>
<polyline stroke="#00dd00" points="55.5,626.0 56.1,625.4 56.7,625.9 57.3,626.4 57.9,627.0 58.5,627.5 59.1,627.3 59.7,627.1 60.3,626.9 60.9,626.8 61.5,626.7 62.1,626.8 62.7,626.8 63.3,626.8 63.9,626.8 64.5,626.9 65.1,626.9 65.7,627.0 66.3,626.8 66.9,626.5 67.5,626.2 68.1,625.8 68.7,625.7 69.3,626.0 69.9,626.4 70.5,626.7 71.1,626.9 71.7,626.8 72.3,626.7 72.9,626.6 73.5,626.5 74.1,627.2 74.7,628.0 75.3,628.7 75.9,629.5 76.5,629.1 77.1,628.6 77.7,628.0 78.3,627.4 78.9,627.2 79.5,627.1 80.1,627.0 80.7,626.9 81.3,626.8 81.9,626.8 82.5,626.8 83.1,626.8 83.7,626.8 84.3,626.8 84.9,626.7 85.5,626.6 86.1,626.5 86.7,626.5 87.3,626.4 87.9,626.3 88.5,626.3 89.1,626.4 89.7,626.5 90.3,626.6 90.9,626.7 91.5,626.9 92.1,627.0 92.7,627.2 93.3,627.3 93.9,627.3 94.5,627.2 95.1,627.0 95.7,626.9 96.3,626.9 96.9,627.1 97.5,627.4 98.1,627.6 98.7,627.6 99.3,627.4 99.9,627.2 100.5,627.0 101.1,626.8 101.7,626.9 102.3,626.9 102.9,627.0 103.5,627.0 104.1,627.3 104.7,627.5 105.3,627.8 105.9,628.1 106.5,628.0 107.1,627.8 107.7,627.6 108.3,627.4 108.9,627.2 109.5,627.0 110.1,626.8 110.7,626.7 111.3,626.6 111.9,626.6 112.5,626.7 113.1,626.8 113.7,626.8 114.3,627.0 114.9,627.1 115.5,627.2 116.1,627.4 116.7,627.6 117.3,627.9 117.9,628.1 118.5,628.4 119.1,628.0 119.7,627.6 120.3,627.2 120.9,626.8 121.5,626.7 122.1,626.7 122.7,626.7 123.3,626.7 123.9,626.9 124.5,627.1 125.1,627.3 125.7,627.5 126.3,627.5 126.9,627.1 127.5,626.8 128.1,626.4 128.7,626.2 129.3,626.3 129.9,626.4 130.5,626.5 131.1,626.7 131.7,626.9 132.3,627.1 132.9,627.3 133.5,627.5 134.1,627.4 134.7,627.4 135.3,627.3 135.9,627.3 136.5,627.2 137.1,627.1 137.7,627.0 138.3,626.9 138.9,627.0 139.5,627.1 140.1,627.2 140.7,627.3 141.3,627.0 141.9,626.4 142.5,625.7 143.1,625.1 143.7,624.9 144.3,625.6 144.9,626.3 145.5,627.0 146.1,627.5 146.7,627.1 147.3,626.8 147.9,626.4 148.5,626.1 149.1,625.9 149.7,625.8 150.3,625.7 150.9,625.5 151.5,625.8 152.1,626.1 152.7,626.5 153.3,626.8 153.9,627.0 154.5,627.1 155.1,627.1 155.7,627.2 156.3,627.2 156.9,626.9 157.5,626.7 158.1,626.5 158.7,626.3 159.3,626.2 159.9,626.1 160.5,626.0 161.1,625.9 161.7,626.1 162.3,626.3 162.9,626.5 163.5,626.7 164.1,626.7 164.7,626.7 165.3,626.7 165.9,626.6 166.5,626.9 167.1,627.1 167.7,627.4 168.3,627.6 168.9,627.6 169.5,627.5 170.1,627.4 170.7,627.3 171.3,627.2 171.9,627.0 172.5,626.9 173.1,626.8 173.7,626.8 174.3,627.0 174.9,627.2 175.5,627.3 176.1,627.4 176.7,627.2 177.3,626.9 177.9,626.7 178.5,626.5 179.1,626.3 179.7,626.2 180.3,626.1 180.9,625.9 181.5,626.1 182.1,626.4 182.7,626.7 183.3,626.9 183.9,627.0 184.5,627.0 185.1,627.0 185.7,627.0 186.3,626.9 186.9,626.8 187.5,626.6 188.1,626.5 188.7,626.3 189.3,626.2 189.9,626.1 190.5,626.0 191.1,626.0 191.7,626.2 192.3,626.3 192.9,626.5 193.5,626.7 194.1,626.2 194.7,625.7 195.3,625.2 195.9,624.7 196.5,625.1 197.1,625.7 197.7,626.2 198.3,626.8 198.9,627.0 199.5,626.9 200.1,626.9 200.7,626.9 201.3,626.6 201.9,626.3 202.5,625.9 203.1,625.5 203.7,625.3 204.3,625.6 204.9,625.9 205.5,626.2 206.1,626.5 206.7,626.3 207.3,626.1 207.9,625.9 208.5,625.7 209.1,626.0 209.7,626.3 210.3,626.6 210.9,626.9 211.5,626.6 212.1,626.1 212.7,625.6 213.3,625.1 213.9,625.0 214.5,625.2 215.1,625.4 215.7,625.6 216.3,625.8 216.9,626.1 217.5,626.4 218.1,626.7 218.7,626.9 219.3,627.0 219.9,627.1 220.5,627.1 221.1,627.1 221.7,626.5 222.3,625.9 222.9,625.3 223.5,624.7 224.1,625.0 224.7,625.3 225.3,625.6 225.9,625.9 226.5,626.1 227.1,626.2 227.7,626.3 228.3,626.5 228.9,626.4 229.5,626.3 230.1,626.1 230.7,625.9 231.3,626.0 231.9,626.4 232.5,626.8 233.1,627.2 233.7,627.3 234.3,626.8 234.9,626.3 235.5,625.8 236.1,625.4 236.7,625.7 237.3,625.9 237.9,626.2 238.5,626.5 239.1,626.2 239.7,626.0 240.3,625.7 240.9,625.5 241.5,625.8 242.1,626.2 242.7,626.7 243.3,627.1 243.9,627.1 244.5,626.8 245.1,626.5 245.7,626.3 246.3,626.1 246.9,626.1 247.5,626.0 248.1,625.9 248.7,625.8 249.3,625.6 249.9,625.3 250.5,625.1 251.1,625.0 251.7,625.6 252.3,626.2 252.9,626.8 253.5,627.3 254.1,627.2 254.7,627.0 255.3,626.8 255.9,626.7 256.5,626.6 257.1,626.6 257.7,626.6 258.3,626.6 258.9,626.7 259.5,626.7 260.1,626.8 260.7,626.9 261.3,626.8 261.9,626.7 262.5,626.5 263.1,626.4 263.7,626.2 264.3,626.0 264.9,625.9 265.5,625.7 266.1,625.5 266.7,625.5 267.3,625.5 267.9,625.4 268.5,625.4 269.1,625.4 269.7,625.4 270.3,625.4 270.9,625.4 271.5,625.7 272.1,626.1 272.7,626.4 273.3,626.8 273.9,626.6 274.5,626.1 275.1,625.6 275.7,625.1 276.3,624.9 276.9,625.1 277.5,625.2 278.1,625.3 278.7,625.5 279.3,625.5 279.9,625.5 280.5,625.6 281.1,625.6 281.7,625.7 282.3,625.8 282.9,625.9 283.5,626.0 284.1,626.0 284.7,626.1 285.3,626.1 285.9,626.2 286.5,625.9 287.1,625.6 287.7,625.3 288.3,625.0 288.9,624.8 289.5,624.7 290.1,624.6 290.7,624.5 291.3,624.6 291.9,624.9 292.5,625.2 293.1,625.5 293.7,625.7 294.3,625.9 294.9,626.1 295.5,626.3 296.1,626.4 296.7,626.3 297.3,626.3 297.9,626.2 298.5,626.1 299.1,626.0 299.7,625.9 300.3,625.8 300.9,625.7 301.5,625.6 302.1,625.5 302.7,625.4 303.3,625.3 303.9,625.3 304.5,625.4 305.1,625.5 305.7,625.5 306.3,625.5 306.9,625.4 307.5,625.3 308.1,625.2 308.7,625.2 309.3,625.4 309.9,625.5 310.5,625.6 311.1,625.7 311.7,625.4 312.3,625.2 312.9,624.9 313.5,624.6 314.1,624.7 314.7,624.8 315.3,624.9 315.9,625.1 316.5,625.0 317.1,624.9 317.7,624.9 318.3,624.8 318.9,624.8 319.5,624.8 320.1,624.9 320.7,624.9 321.3,624.9 321.9,624.8 322.5,624.6 323.1,624.5 323.7,624.5 324.3,624.7 324.9,625.0 325.5,625.2 326.1,625.3 326.7,625.0 327.3,624.7 327.9,624.4 328.5,624.1 329.1,624.0 329.7,623.8 330.3,623.5 330.9,623.3 331.5,622.7 332.1,622.1 332.7,621.4 333.3,620.7 333.9,620.4 334.5,620.1 335.1,619.8 335.7,619.5 336.3,618.9 336.9,618.2 337.5,617.4 338.1,616.4 338.7,615.3 339.3,614.0 339.9,612.5 340.5,610.6 341.1,608.2 341.7,605.2 342.3,601.3 342.9,596.5 343.5,590.3 344.1,582.3 344.7,571.4 345.3,556.5 345.9,536.2 346.5,509.2 347.1,476.4 347.7,444.3 348.3,427.0 348.9,435.4 349.5,463.6 350.1,496.7 350.7,525.3 351.3,547.4 351.9,563.8 352.5,575.9 353.1,584.9 353.7,591.9 354.3,597.3 354.9,601.6 355.5,605.0 356.1,607.9 356.7,610.2 357.3,612.1 357.9,613.8 358.5,615.2 359.1,616.4 359.7,617.4 360.3,618.3 360.9,619.1 361.5,619.8 362.1,620.5 362.7,621.2 363.3,621.8 363.9,622.1 364.5,622.2 365.1,622.3 365.7,622.4 366.3,622.5 366.9,622.9 367.5,623.2 368.1,623.5 368.7,623.7 369.3,623.8 369.9,623.9 370.5,624.0 371.1,624.1 371.7,624.4 372.3,624.7 372.9,625.0 373.5,625.3 374.1,625.3 374.7,625.2 375.3,625.2 375.9,625.1 376.5,625.2 377.1,625.4 377.7,625.5 378.3,625.7 378.9,625.5 379.5,625.2 380.1,624.9 380.7,624.6 381.3,624.5 381.9,624.7 382.5,624.8 383.1,625.0 383.7,625.1 384.3,625.0 384.9,624.9 385.5,624.9 386.1,624.9 386.7,625.3 387.3,625.6 387.9,626.0 388.5,626.4 389.1,626.3 389.7,626.2 390.3,626.1 390.9,625.9 391.5,625.8 392.1,625.7 392.7,625.5 393.3,625.4 393.9,625.3 394.5,625.3 395.1,625.3 395.7,625.3 396.3,625.4 396.9,625.5 397.5,625.7 398.1,625.8 398.7,625.9 399.3,625.7 399.9,625.5 400.5,625.3 401.1,625.2 401.7,625.1 402.3,625.1 402.9,625.0 403.5,625.0 404.1,625.2 404.7,625.5 405.3,625.7 405.9,625.9 406.5,626.2 407.1,626.5 407.7,626.8 408.3,627.1 408.9,626.9 409.5,626.5 410.1,626.0 410.7,625.6 411.3,625.3 411.9,625.3 412.5,625.2 413.1,625.1 413.7,625.0 414.3,624.9 414.9,624.8 415.5,624.6 416.1,624.5 416.7,624.5 417.3,624.4 417.9,624.3 418.5,624.2 419.1,624.5 419.7,624.7 420.3,624.8 420.9,625.0 421.5,625.0 422.1,624.9 422.7,624.8 423.3,624.7 423.9,624.4 424.5,624.1 425.1,623.7 425.7,623.3 426.3,622.8 426.9,622.3 427.5,621.7 428.1,620.8 428.7,619.6 429.3,618.1 429.9,616.2 430.5,613.8 431.1,610.9 431.7,607.6 432.3,603.8 432.9,599.6 433.5,595.2 434.1,590.7 434.7,586.7 435.3,583.5 435.9,581.5 436.5,581.3 437.1,582.7 437.7,585.5 438.3,589.3 438.9,593.7 439.5,598.1 440.1,602.4 440.7,606.4 441.3,609.9 441.9,612.9 442.5,615.3 443.1,617.3 443.7,618.9 444.3,620.2 444.9,621.2 445.5,622.0 446.1,622.6 446.7,623.0 447.3,623.3 447.9,623.5 448.5,623.7 449.1,624.0 449.7,624.2 450.3,624.4 450.9,624.6 451.5,624.9 452.1,625.1 452.7,625.4 453.3,625.7 453.9,625.7 454.5,625.6 455.1,625.5 455.7,625.3 456.3,625.3 456.9,625.4 457.5,625.5 458.1,625.5 458.7,625.7 459.3,625.8 459.9,626.0 460.5,626.2 461.1,626.4 461.7,626.4 462.3,626.4 462.9,626.4 463.5,626.4 464.1,626.6 464.7,626.8 465.3,627.0 465.9,627.2 466.5,626.7 467.1,626.1 467.7,625.4 468.3,624.8 468.9,625.0 469.5,625.5 470.1,626.0 470.7,626.5 471.3,626.6 471.9,626.4 472.5,626.2 473.1,626.0 473.7,625.9 474.3,626.0 474.9,626.1 475.5,626.2 476.1,626.3 476.7,626.4 477.3,626.6 477.9,626.7 478.5,626.8 479.1,626.9 479.7,626.9 480.3,627.0 480.9,627.0 481.5,627.0 482.1,627.0 482.7,627.0 483.3,627.0 483.9,626.9 484.5,626.8 485.1,626.6 485.7,626.5 486.3,626.5 486.9,626.8 487.5,627.0 488.1,627.3 488.7,627.4 489.3,627.0 489.9,626.7 490.5,626.4 491.1,626.1 491.7,626.1 492.3,626.2 492.9,626.2 493.5,626.2 494.1,626.4 494.7,626.6 495.3,626.7 495.9,626.9 496.5,626.7 497.1,626.5 497.7,626.3 498.3,626.0 498.9,626.3 499.5,626.7 500.1,627.2 500.7,627.7 501.3,627.8 501.9,627.6 502.5,627.5 503.1,627.3 503.7,627.2 504.3,627.4 504.9,627.6 505.5,627.8 506.1,627.9 506.7,627.5 507.3,627.1 507.9,626.8 508.5,626.4 509.1,626.3 509.7,626.2 510.3,626.2 510.9,626.1 511.5,626.2 512.1,626.3 512.7,626.4 513.3,626.5 513.9,626.6 514.5,626.7 515.1,626.8 515.7,626.9 516.3,626.8 516.9,626.6 517.5,626.4 518.1,626.1 518.7,626.0 519.3,626.2 519.9,626.4 520.5,626.5 521.1,626.7 521.7,626.6 522.3,626.5 522.9,626.5 523.5,626.4 524.1,626.7 524.7,627.0 525.3,627.3 525.9,627.6 526.5,627.3 527.1,626.9 527.7,626.5 528.3,626.1 528.9,626.1 529.5,626.4 530.1,626.7 530.7,627.0 531.3,627.0 531.9,626.7 532.5,626.4 533.1,626.1 533.7,625.9 534.3,625.9 534.9,625.8 535.5,625.8 536.1,625.7 536.7,625.8 537.3,625.8 537.9,625.9 538.5,625.9 539.1,625.8 539.7,625.7 540.3,625.6 540.9,625.6 541.5,625.7 542.1,626.0 542.7,626.2 543.3,626.5 543.9,626.6 544.5,626.8 545.1,627.0 545.7,627.1 546.3,627.1 546.9,627.0 547.5,626.8 548.1,626.7 548.7,626.6 549.3,626.7 549.9,626.8 550.5,626.8 551.1,626.9 551.7,627.1 552.3,627.3 552.9,627.5 553.5,627.7 554.1,627.4 554.7,627.2 555.3,626.9 555.9,626.7 556.5,626.6 557.1,626.6 557.7,626.6 558.3,626.6 558.9,626.5 559.5,626.5 560.1,626.4 560.7,626.3 561.3,626.1 561.9,625.9 562.5,625.6 563.1,625.4 563.7,625.4 564.3,625.8 564.9,626.2 565.5,626.7 566.1,626.9 566.7,626.5 567.3,626.0 567.9,625.6 568.5,625.1 569.1,625.6 569.7,626.0 570.3,626.4 570.9,626.9 571.5,626.8 572.1,626.7 572.7,626.6 573.3,626.5 573.9,626.6 574.5,626.8 575.1,627.0 575.7,627.2 576.3,627.2 576.9,627.0 577.5,626.8 578.1,626.5 578.7,626.4 579.3,626.2 579.9,626.1 580.5,626.0 581.1,625.9 581.7,626.1 582.3,626.3 582.9,626.5 583.5,626.7 584.1,626.6 584.7,626.4 585.3,626.2 585.9,626.1 586.5,626.1 587.1,626.2 587.7,626.2 588.3,626.3 588.9,626.3 589.5,626.4 590.1,626.4 590.7,626.5 591.3,626.5 591.9,626.4 592.5,626.4 593.1,626.4 593.7,626.4 594.3,626.3 594.9,626.3 595.5,626.3 596.1,626.3 596.7,626.2 597.3,626.1 597.9,626.0 598.5,625.8 599.1,626.0 599.7,626.1 600.3,626.2 600.9,626.3 601.5,626.0 602.1,625.7 602.7,625.3 603.3,625.0 603.9,625.1 604.5,625.5 605.1,625.8 605.7,626.2 606.3,626.2 606.9,626.1 607.5,625.9 608.1,625.7 608.7,625.7 609.3,626.1 609.9,626.5 610.5,626.9 611.1,627.3 611.7,627.3 612.3,627.4 612.9,627.4 613.5,627.4 614.1,626.8 614.7,626.3 615.3,625.7 615.9,625.1 616.5,625.3 617.1,625.7 617.7,626.1 618.3,626.4 618.9,626.5 619.5,626.5 620.1,626.4 620.7,626.4 621.3,626.3 621.9,626.1 622.5,626.0 623.1,625.8 623.7,625.8 624.3,626.1 624.9,626.3 625.5,626.6 626.1,626.8 626.7,626.6 627.3,626.5 627.9,626.3 628.5,626.1 629.1,625.9 629.7,625.6 630.3,625.4 630.9,625.2 631.5,625.4 632.1,625.6 632.7,625.9 633.3,626.2 633.9,626.3 634.5,626.3 635.1,626.3 635.7,626.3 636.3,626.4 636.9,626.4 637.5,626.5 638.1,626.5 638.7,626.5 639.3,626.2 639.9,626.0 640.5,625.7 641.1,625.6 641.7,625.9 642.3,626.3 642.9,626.6 643.5,626.9 644.1,626.9 644.7,627.0 645.3,627.0 645.9,627.0 646.5,626.7 647.1,626.4 647.7,626.1 648.3,625.7 648.9,625.7 649.5,625.7 650.1,625.8 650.7,625.9 651.3,626.0 651.9,626.1 652.5,626.2 653.1,626.3 653.7,626.4 654.3,626.3 654.9,626.2 655.5,626.1 656.1,626.1 656.7,626.5 657.3,626.9 657.9,627.3 658.5,627.7 659.1,627.5 659.7,627.2 660.3,626.9 660.9,626.7 661.5,626.4 662.1,626.2 662.7,626.0 663.3,625.8 663.9,625.7 664.5,625.8 665.1,625.8 665.7,625.8 666.3,625.9 666.9,626.1 667.5,626.2 668.1,626.3 668.7,626.5 669.3,627.0 669.9,627.4 670.5,627.8 671.1,628.1 671.7,627.6 672.3,627.2 672.9,626.7 673.5,626.3 674.1,626.4 674.7,626.4 675.3,626.5 675.9,626.5 676.5,626.6 677.1,626.7 677.7,626.7 678.3,626.8 678.9,626.7 679.5,626.6 680.1,626.5 680.7,626.4 681.3,626.6 681.9,627.0 682.5,627.4 683.1,627.8 683.7,627.9 684.3,627.4 684.9,626.9 685.5,626.4 686.1,626.1 686.7,626.3 687.3,626.5 687.9,626.7 688.5,627.0 689.1,626.9 689.7,626.7 690.3,626.6 690.9,626.5 691.5,626.6 692.1,626.7 692.7,626.7 693.3,626.8 693.9,626.6 694.5,626.3 695.1,626.0 695.7,625.7 696.3,625.8 696.9,626.3 697.5,626.8 698.1,627.3 698.7,627.5 699.3,627.2 699.9,626.9 700.5,626.5 701.1,626.3 701.7,626.3 702.3,626.3 702.9,626.3 703.5,626.3 704.1,626.1 704.7,626.0 705.3,625.8 705.9,625.6 706.5,625.6 707.1,625.6 707.7,625.6 708.3,625.7 708.9,625.8 709.5,626.0 710.1,626.2 710.7,626.4 711.3,626.5 711.9,626.6 712.5,626.6 713.1,626.7 713.7,626.7 714.3,626.6 714.9,626.6 715.5,626.5 716.1,626.4 716.7,626.5 717.3,626.5 717.9,626.6 718.5,626.6 719.1,626.4 719.7,626.3 720.3,626.1 720.9,626.0 721.5,625.8 722.1,625.6 722.7,625.3 723.3,625.0 723.9,624.8 724.5,624.6 725.1,624.3 725.7,624.0 726.3,623.5 726.9,622.9 727.5,622.3 728.1,621.7 728.7,621.3 729.3,620.9 729.9,620.5 730.5,620.1 731.1,619.5 731.7,618.7 732.3,617.5 732.9,615.8 733.5,613.7 734.1,611.2 734.7,608.5 735.3,605.8 735.9,603.6 736.5,602.3 737.1,602.3 737.7,603.6 738.3,605.8 738.9,608.6 739.5,611.4 740.1,614.0 740.7,616.3 741.3,618.3 741.9,620.0 742.5,621.3 743.1,622.4 743.7,623.3 744.3,624.0 744.9,624.6 745.5,625.1 746.1,625.5 746.7,625.4 747.3,625.2 747.9,625.0 748.5,624.8 749.1,624.9 749.7,625.0 750.3,625.1 750.9,625.2 751.5,625.3 752.1,625.3 752.7,625.3 753.3,625.4 753.9,625.5 754.5,625.8 755.1,626.0 755.7,626.3 756.3,626.2 756.9,625.7 757.5,625.2 758.1,624.7 758.7,624.5 759.3,624.8 759.9,625.2 760.5,625.6 761.1,626.0 761.7,626.1 762.3,626.3 762.9,626.4 763.5,626.6 764.1,626.2 764.7,625.9 765.3,625.5 765.9,625.2 766.5,625.5 767.1,625.9 767.7,626.3 768.3,626.7 768.9,626.7 769.5,626.5 770.1,626.4 770.7,626.2 771.3,626.0 771.9,625.8 772.5,625.6 773.1,625.4 773.7,625.4 774.3,625.5 774.9,625.6 775.5,625.8 776.1,625.8 776.7,625.5 777.3,625.2 777.9,624.9 778.5,624.6 779.1,624.7 779.7,624.9 780.3,625.1 780.9,625.3 781.5,625.7 782.1,626.1 782.7,626.6 783.3,627.0 783.9,626.8 784.5,626.4 785.1,625.9 785.7,625.4 786.3,625.5 786.9,626.0 787.5,626.5 788.1,627.0 788.7,627.2 789.3,626.9 789.9,626.5 790.5,626.2 791.1,626.0 791.7,626.2 792.3,626.4 792.9,626.6 793.5,626.8 794.1,626.6 794.7,626.5 795.3,626.3 795.9,626.2 796.5,625.8 797.1,625.4 797.7,625.1 798.3,624.7 798.9,624.7 799.5,625.0 800.1,625.4 800.7,625.7 801.3,625.9 801.9,626.1 802.5,626.2 803.1,626.4 803.7,626.4 804.3,626.2 804.9,625.9 805.5,625.7 806.1,625.5 806.7,625.5 807.3,625.5 807.9,625.5 808.5,625.4 809.1,625.8 809.7,626.1 810.3,626.4 810.9,626.7 811.5,626.6 812.1,626.5 812.7,626.3 813.3,626.1 813.9,626.0 814.5,625.8 815.1,625.6 815.7,625.5 816.3,625.5 816.9,625.7 817.5,625.9 818.1,626.1 818.7,626.3 819.3,626.6 819.9,626.9 820.5,627.2 821.1,627.4 821.7,627.1 822.3,626.9 822.9,626.7 823.5,626.5 824.1,626.7 824.7,627.0 825.3,627.3 825.9,627.5 826.5,627.7 827.1,627.8 827.7,627.9 828.3,628.0 828.9,627.9 829.5,627.7 830.1,627.4 830.7,627.2 831.3,626.9 831.9,626.7 832.5,626.5 833.1,626.4 833.7,626.2 834.3,626.2 834.9,626.2 835.5,626.2 836.1,626.2 836.7,626.4 837.3,626.7 837.9,626.9 838.5,627.2 839.1,627.3 839.7,627.5 840.3,627.7 840.9,627.9 841.5,627.8 842.1,627.7 842.7,627.6 843.3,627.5 843.9,627.6 844.5,627.6 845.1,627.7 845.7,627.7 846.3,627.7 846.9,627.5 847.5,627.4 848.1,627.2 848.7,627.1 849.3,627.3 849.9,627.4 850.5,627.6 851.1,627.7 851.7,627.6 852.3,627.4 852.9,627.3 853.5,627.2 854.1,627.2 854.7,627.2 855.3,627.3 855.9,627.3 856.5,627.2 857.1,627.0 857.7,626.8 858.3,626.7 858.9,626.6 859.5,626.6 860.1,626.5 860.7,626.5 861.3,626.5 861.9,626.8 862.5,627.0 863.1,627.2 863.7,627.3 864.3,627.2 864.9,627.1 865.5,626.9 866.1,626.9 866.7,626.9 867.3,626.9 867.9,627.0 868.5,627.0 869.1,627.3 869.7,627.6 870.3,627.9 870.9,628.2 871.5,628.1 872.1,628.0 872.7,627.9 873.3,627.8 873.9,628.1 874.5,628.6 875.1,629.2 875.7,629.7 876.3,629.8 876.9,629.5 877.5,629.1 878.1,628.8 878.7,628.4 879.3,628.2 879.9,627.9 880.5,627.6 881.1,627.5 881.7,627.7 882.3,628.0 882.9,628.2 883.5,628.5 884.1,628.4 884.7,628.4 885.3,628.3 885.9,628.2 886.5,628.1 887.1,627.9 887.7,627.7 888.3,627.5 888.9,627.7 889.5,628.0 890.1,628.3 890.7,628.7 891.3,628.7 891.9,628.3 892.5,628.0 893.1,627.7 893.7,627.3 894.3,626.9 894.9,626.5 895.5,626.1 896.1,625.9 896.7,626.6 897.3,627.3 897.9,628.0 898.5,628.7 899.1,628.4 899.7,628.2 900.3,627.9 900.9,627.6 901.5,627.9 902.1,628.2 902.7,628.6 903.3,628.9 903.9,628.8 904.5,628.4 905.1,628.0 905.7,627.6 906.3,627.4 906.9,627.2 907.5,627.1 908.1,627.0 908.7,627.1 909.3,627.5 909.9,628.0 910.5,628.4 911.1,628.7 911.7,628.2 912.3,627.7 912.9,627.2 913.5,626.7 914.1,626.8 914.7,626.9 915.3,627.0 915.9,627.1 916.5,627.2 917.1,627.2 917.7,627.1 918.3,627.1 918.9,626.7 919.5,626.2 920.1,625.7 920.7,625.1 921.3,624.6 921.9,624.2 922.5,623.8 923.1,623.4 923.7,623.1 924.3,622.8 924.9,622.7 925.5,622.7 926.1,622.9 926.7,623.2 927.3,623.6 927.9,624.0 928.5,624.5 929.1,624.7 929.7,624.8 930.3,625.0 930.9,625.1 931.5,625.5 932.1,625.9 932.7,626.3 933.3,626.7 933.9,626.9 934.5,627.1 935.1,627.2"/>
</g>
<rect x="53.15" y="2.5" width="882.95" height="648.7" fill="none" stroke="#000" stroke-width="4.4"/>
<line x1="116.1" y1="651.2" x2="116.1" y2="645.3" stroke="#000" stroke-width="4"/>
<line x1="179.1" y1="651.2" x2="179.1" y2="639.8" stroke="#000" stroke-width="4"/>
<line x1="242.2" y1="651.2" x2="242.2" y2="645.3" stroke="#000" stroke-width="4"/>
<line x1="305.3" y1="651.2" x2="305.3" y2="639.8" stroke="#000" stroke-width="4"/>
<line x1="368.4" y1="651.2" x2="368.4" y2="645.3" stroke="#000" stroke-width="4"/>
<line x1="431.4" y1="651.2" x2="431.4" y2="639.8" stroke="#000" stroke-width="4"/>
<line x1="494.5" y1="651.2" x2="494.5" y2="645.3" stroke="#000" stroke-width="4"/>
<line x1="557.6" y1="651.2" x2="557.6" y2="639.8" stroke="#000" stroke-width="4"/>
<line x1="620.6" y1="651.2" x2="620.6" y2="645.3" stroke="#000" stroke-width="4"/>
<line x1="683.7" y1="651.2" x2="683.7" y2="639.8" stroke="#000" stroke-width="4"/>
<line x1="746.8" y1="651.2" x2="746.8" y2="645.3" stroke="#000" stroke-width="4"/>
<line x1="809.9" y1="651.2" x2="809.9" y2="639.8" stroke="#000" stroke-width="4"/>
<line x1="872.9" y1="651.2" x2="872.9" y2="645.3" stroke="#000" stroke-width="4"/>
<text class="se" x="53.3" y="685.6" font-size="28.0" text-anchor="middle" >20</text>
<text class="se" x="179.4" y="685.6" font-size="28.0" text-anchor="middle" >30</text>
<text class="se" x="305.6" y="685.6" font-size="28.0" text-anchor="middle" >40</text>
<text class="se" x="431.7" y="685.6" font-size="28.0" text-anchor="middle" >50</text>
<text class="se" x="557.9" y="685.6" font-size="28.0" text-anchor="middle" >60</text>
<text class="se" x="684.0" y="685.6" font-size="28.0" text-anchor="middle" >70</text>
<text class="se" x="810.2" y="685.6" font-size="28.0" text-anchor="middle" >80</text>
<text class="se" x="936.3" y="685.6" font-size="28.0" text-anchor="middle" >90</text>
<text class="se" x="58.30" y="53.70" font-size="48.30" textLength="58.29" lengthAdjust="spacingAndGlyphs">(a)</text>
<text class="se" x="95.59" y="173.90" font-size="31.00" textLength="92.65" lengthAdjust="spacingAndGlyphs">HNSS1</text>
<text class="se" x="95.59" y="346.50" font-size="31.00" textLength="93.20" lengthAdjust="spacingAndGlyphs">HNSS2</text>
<text class="se" x="61.89" y="604.10" font-size="30.00" textLength="215.20" lengthAdjust="spacingAndGlyphs">Standard 316 SS</text>
<g transform="translate(313.5,44.4)"><path d="M0.2,-7.0 C0.6,-10.0 2.0,-11.3 3.0,-11.2 C4.6,-11.0 5.6,-6.5 6.4,-2.2" fill="none" stroke="#000" stroke-width="1.5" stroke-linecap="round"/>
<path d="M8.4,-11.35 L12.0,-11.25 C11.0,-8.5 9.0,-5.0 7.3,-1.4 C7.6,0.2 7.9,2.0 7.8,3.8 C7.7,5.3 6.9,5.8 5.9,5.8 C4.9,5.8 4.1,5.0 4.2,3.8 C4.3,2.2 5.3,0.3 5.9,-1.4 C6.6,-4.5 7.7,-8.0 8.4,-11.35 Z" fill="#000"/></g>
<text class="se" x="330.90" y="44.40" font-size="25.00" textLength="66.91" lengthAdjust="spacingAndGlyphs"><tspan class="rp">(</tspan>1 1 1<tspan class="rp">)</tspan></text>
<g transform="translate(378.5,123.8)"><path d="M0.2,-7.0 C0.6,-10.0 2.0,-11.3 3.0,-11.2 C4.6,-11.0 5.6,-6.5 6.4,-2.2" fill="none" stroke="#000" stroke-width="1.5" stroke-linecap="round"/>
<path d="M8.4,-11.35 L12.0,-11.25 C11.0,-8.5 9.0,-5.0 7.3,-1.4 C7.6,0.2 7.9,2.0 7.8,3.8 C7.7,5.3 6.9,5.8 5.9,5.8 C4.9,5.8 4.1,5.0 4.2,3.8 C4.3,2.2 5.3,0.3 5.9,-1.4 C6.6,-4.5 7.7,-8.0 8.4,-11.35 Z" fill="#000"/></g>
<text class="se" x="395.92" y="123.80" font-size="25.00" textLength="65.35" lengthAdjust="spacingAndGlyphs"><tspan class="rp">(</tspan>2 0 0<tspan class="rp">)</tspan></text>
<g transform="translate(687.2,168.4)"><path d="M0.2,-7.0 C0.6,-10.0 2.0,-11.3 3.0,-11.2 C4.6,-11.0 5.6,-6.5 6.4,-2.2" fill="none" stroke="#000" stroke-width="1.5" stroke-linecap="round"/>
<path d="M8.4,-11.35 L12.0,-11.25 C11.0,-8.5 9.0,-5.0 7.3,-1.4 C7.6,0.2 7.9,2.0 7.8,3.8 C7.7,5.3 6.9,5.8 5.9,5.8 C4.9,5.8 4.1,5.0 4.2,3.8 C4.3,2.2 5.3,0.3 5.9,-1.4 C6.6,-4.5 7.7,-8.0 8.4,-11.35 Z" fill="#000"/></g>
<text class="se" x="704.60" y="168.40" font-size="25.00" textLength="66.49" lengthAdjust="spacingAndGlyphs"><tspan class="rp">(</tspan>2 2 0<tspan class="rp">)</tspan></text>
<g transform="translate(851.2,152.1)"><path d="M0.2,-7.0 C0.6,-10.0 2.0,-11.3 3.0,-11.2 C4.6,-11.0 5.6,-6.5 6.4,-2.2" fill="none" stroke="#000" stroke-width="1.5" stroke-linecap="round"/>
<path d="M8.4,-11.35 L12.0,-11.25 C11.0,-8.5 9.0,-5.0 7.3,-1.4 C7.6,0.2 7.9,2.0 7.8,3.8 C7.7,5.3 6.9,5.8 5.9,5.8 C4.9,5.8 4.1,5.0 4.2,3.8 C4.3,2.2 5.3,0.3 5.9,-1.4 C6.6,-4.5 7.7,-8.0 8.4,-11.35 Z" fill="#000"/></g>
<text class="se" x="868.62" y="152.10" font-size="25.00" textLength="65.25" lengthAdjust="spacingAndGlyphs"><tspan class="rp">(</tspan>3 1 1<tspan class="rp">)</tspan></text>
<g transform="translate(309.6,231.0)"><path d="M0.2,-7.0 C0.6,-10.0 2.0,-11.3 3.0,-11.2 C4.6,-11.0 5.6,-6.5 6.4,-2.2" fill="none" stroke="#000" stroke-width="1.5" stroke-linecap="round"/>
<path d="M8.4,-11.35 L12.0,-11.25 C11.0,-8.5 9.0,-5.0 7.3,-1.4 C7.6,0.2 7.9,2.0 7.8,3.8 C7.7,5.3 6.9,5.8 5.9,5.8 C4.9,5.8 4.1,5.0 4.2,3.8 C4.3,2.2 5.3,0.3 5.9,-1.4 C6.6,-4.5 7.7,-8.0 8.4,-11.35 Z" fill="#000"/></g>
<text class="se" x="326.99" y="231.00" font-size="25.00" textLength="67.11" lengthAdjust="spacingAndGlyphs"><tspan class="rp">(</tspan>1 1 1<tspan class="rp">)</tspan></text>
<g transform="translate(376.7,319.5)"><path d="M0.2,-7.0 C0.6,-10.0 2.0,-11.3 3.0,-11.2 C4.6,-11.0 5.6,-6.5 6.4,-2.2" fill="none" stroke="#000" stroke-width="1.5" stroke-linecap="round"/>
<path d="M8.4,-11.35 L12.0,-11.25 C11.0,-8.5 9.0,-5.0 7.3,-1.4 C7.6,0.2 7.9,2.0 7.8,3.8 C7.7,5.3 6.9,5.8 5.9,5.8 C4.9,5.8 4.1,5.0 4.2,3.8 C4.3,2.2 5.3,0.3 5.9,-1.4 C6.6,-4.5 7.7,-8.0 8.4,-11.35 Z" fill="#000"/></g>
<text class="se" x="394.11" y="319.50" font-size="25.00" textLength="66.29" lengthAdjust="spacingAndGlyphs"><tspan class="rp">(</tspan>2 0 0<tspan class="rp">)</tspan></text>
<g transform="translate(693.5,334.1)"><path d="M0.2,-7.0 C0.6,-10.0 2.0,-11.3 3.0,-11.2 C4.6,-11.0 5.6,-6.5 6.4,-2.2" fill="none" stroke="#000" stroke-width="1.5" stroke-linecap="round"/>
<path d="M8.4,-11.35 L12.0,-11.25 C11.0,-8.5 9.0,-5.0 7.3,-1.4 C7.6,0.2 7.9,2.0 7.8,3.8 C7.7,5.3 6.9,5.8 5.9,5.8 C4.9,5.8 4.1,5.0 4.2,3.8 C4.3,2.2 5.3,0.3 5.9,-1.4 C6.6,-4.5 7.7,-8.0 8.4,-11.35 Z" fill="#000"/></g>
<text class="se" x="710.90" y="334.10" font-size="25.00" textLength="66.80" lengthAdjust="spacingAndGlyphs"><tspan class="rp">(</tspan>2 2 0<tspan class="rp">)</tspan></text>
<g transform="translate(848.4,345.5)"><path d="M0.2,-7.0 C0.6,-10.0 2.0,-11.3 3.0,-11.2 C4.6,-11.0 5.6,-6.5 6.4,-2.2" fill="none" stroke="#000" stroke-width="1.5" stroke-linecap="round"/>
<path d="M8.4,-11.35 L12.0,-11.25 C11.0,-8.5 9.0,-5.0 7.3,-1.4 C7.6,0.2 7.9,2.0 7.8,3.8 C7.7,5.3 6.9,5.8 5.9,5.8 C4.9,5.8 4.1,5.0 4.2,3.8 C4.3,2.2 5.3,0.3 5.9,-1.4 C6.6,-4.5 7.7,-8.0 8.4,-11.35 Z" fill="#000"/></g>
<text class="se" x="865.80" y="345.50" font-size="25.00" textLength="66.80" lengthAdjust="spacingAndGlyphs"><tspan class="rp">(</tspan>3 1 1<tspan class="rp">)</tspan></text>
<g transform="translate(309.6,410.4)"><path d="M0.2,-7.0 C0.6,-10.0 2.0,-11.3 3.0,-11.2 C4.6,-11.0 5.6,-6.5 6.4,-2.2" fill="none" stroke="#000" stroke-width="1.5" stroke-linecap="round"/>
<path d="M8.4,-11.35 L12.0,-11.25 C11.0,-8.5 9.0,-5.0 7.3,-1.4 C7.6,0.2 7.9,2.0 7.8,3.8 C7.7,5.3 6.9,5.8 5.9,5.8 C4.9,5.8 4.1,5.0 4.2,3.8 C4.3,2.2 5.3,0.3 5.9,-1.4 C6.6,-4.5 7.7,-8.0 8.4,-11.35 Z" fill="#000"/></g>
<text class="se" x="326.99" y="410.40" font-size="25.00" textLength="67.11" lengthAdjust="spacingAndGlyphs"><tspan class="rp">(</tspan>1 1 1<tspan class="rp">)</tspan></text>
<g transform="translate(373.2,569.7)"><path d="M0.2,-7.0 C0.6,-10.0 2.0,-11.3 3.0,-11.2 C4.6,-11.0 5.6,-6.5 6.4,-2.2" fill="none" stroke="#000" stroke-width="1.5" stroke-linecap="round"/>
<path d="M8.4,-11.35 L12.0,-11.25 C11.0,-8.5 9.0,-5.0 7.3,-1.4 C7.6,0.2 7.9,2.0 7.8,3.8 C7.7,5.3 6.9,5.8 5.9,5.8 C4.9,5.8 4.1,5.0 4.2,3.8 C4.3,2.2 5.3,0.3 5.9,-1.4 C6.6,-4.5 7.7,-8.0 8.4,-11.35 Z" fill="#000"/></g>
<text class="se" x="390.59" y="569.70" font-size="25.00" textLength="67.11" lengthAdjust="spacingAndGlyphs"><tspan class="rp">(</tspan>2 0 0<tspan class="rp">)</tspan></text>
<g transform="translate(699.2,588.4)"><path d="M0.2,-7.0 C0.6,-10.0 2.0,-11.3 3.0,-11.2 C4.6,-11.0 5.6,-6.5 6.4,-2.2" fill="none" stroke="#000" stroke-width="1.5" stroke-linecap="round"/>
<path d="M8.4,-11.35 L12.0,-11.25 C11.0,-8.5 9.0,-5.0 7.3,-1.4 C7.6,0.2 7.9,2.0 7.8,3.8 C7.7,5.3 6.9,5.8 5.9,5.8 C4.9,5.8 4.1,5.0 4.2,3.8 C4.3,2.2 5.3,0.3 5.9,-1.4 C6.6,-4.5 7.7,-8.0 8.4,-11.35 Z" fill="#000"/></g>
<text class="se" x="716.61" y="588.40" font-size="25.00" textLength="66.18" lengthAdjust="spacingAndGlyphs"><tspan class="rp">(</tspan>2 2 0<tspan class="rp">)</tspan></text>
<g transform="translate(851.2,604.0)"><path d="M0.2,-7.0 C0.6,-10.0 2.0,-11.3 3.0,-11.2 C4.6,-11.0 5.6,-6.5 6.4,-2.2" fill="none" stroke="#000" stroke-width="1.5" stroke-linecap="round"/>
<path d="M8.4,-11.35 L12.0,-11.25 C11.0,-8.5 9.0,-5.0 7.3,-1.4 C7.6,0.2 7.9,2.0 7.8,3.8 C7.7,5.3 6.9,5.8 5.9,5.8 C4.9,5.8 4.1,5.0 4.2,3.8 C4.3,2.2 5.3,0.3 5.9,-1.4 C6.6,-4.5 7.7,-8.0 8.4,-11.35 Z" fill="#000"/></g>
<text class="se" x="868.62" y="604.00" font-size="25.00" textLength="65.35" lengthAdjust="spacingAndGlyphs"><tspan class="rp">(</tspan>3 1 1<tspan class="rp">)</tspan></text>
<text class="se" x="455.39" y="727.60" font-size="33.50" textLength="78.69" lengthAdjust="spacingAndGlyphs">2&#952; (<tspan class="rg">&#176;</tspan>)</text>
<text class="se" x="-1.13" y="0" font-size="34.00" textLength="204.29" lengthAdjust="spacingAndGlyphs" transform="translate(27.90,427.90) rotate(-90)">Intensity / a.u.</text>
<line x1="309.6" y1="754.7" x2="309.6" y2="1392.3" stroke="#000" stroke-width="4"/>
<line x1="795.8" y1="754.7" x2="795.8" y2="1392.3" stroke="#000" stroke-width="4"/>
<g clip-path="url(#cb)" fill="none" stroke-width="4.2" stroke-linejoin="round" stroke-linecap="round">
<polyline stroke="#0000ff" points="64.0,946.5 67.5,946.2 71.0,944.0 74.5,944.1 78.0,943.7 81.5,944.9 85.0,944.0 88.5,944.9 92.0,941.5 95.5,945.6 100.0,943.5 102.5,943.3 106.0,943.0 109.5,944.0 113.0,944.5 116.5,943.1 120.0,943.1 123.5,944.2 127.0,942.2 130.5,941.3 134.0,943.7 137.5,942.3 141.0,940.7 144.5,942.1 148.0,942.5 151.5,941.5 155.0,941.1 158.5,943.1 161.0,943.0 165.5,942.0 169.0,943.3 172.5,943.6 176.0,942.2 179.5,943.2 183.0,943.7 186.5,942.1 190.0,941.2 193.5,942.6 197.0,942.4 200.0,942.0 204.0,940.9 207.5,940.5 211.0,939.2 214.5,941.1 218.0,941.4 221.5,939.6 225.0,941.9 228.5,941.0 232.0,940.5 235.5,940.0 237.0,939.4 239.0,937.6 242.5,938.3 246.0,937.3 249.5,934.1 252.0,935.0 256.5,934.7 260.0,932.7 262.5,932.5 267.4,924.5 270.5,921.0 272.3,919.0 274.0,916.2 277.2,911.6 281.5,903.0 284.5,897.4 285.8,894.4 288.9,878.4 291.4,853.8 293.2,831.7 296.0,820.0 298.1,817.0 301.8,823.0 306.7,841.5 309.0,849.7 311.7,858.7 315.4,878.4 319.0,898.0 322.7,911.6 326.5,915.4 328.9,917.8 333.8,924.0 337.0,927.0 340.0,930.0 344.0,931.4 347.5,934.3 351.0,935.0 354.5,935.4 358.0,939.1 359.6,938.7 361.5,941.3 365.0,939.1 368.5,938.7 372.0,937.8 375.5,941.3 380.0,940.0 382.5,939.3 386.0,940.9 389.5,939.3 393.0,940.1 396.5,940.1 400.0,940.8 403.5,942.1 407.0,940.8 410.5,942.1 414.0,940.5 417.5,941.5 420.0,941.2 424.5,942.2 428.0,940.4 431.5,941.8 435.0,941.7 438.5,942.7 442.0,942.0 445.5,942.2 449.0,940.7 452.5,939.9 456.0,939.8 459.5,940.1 463.0,939.3 466.5,940.0 470.0,940.5 473.5,940.9 477.0,940.1 480.0,940.5 484.0,940.9 487.5,942.0 491.0,941.5 494.5,940.1 498.0,940.0 501.5,943.6 505.0,942.1 508.5,943.5 512.0,944.0 515.5,940.4 519.0,942.0 522.5,942.1 526.0,942.4 529.5,942.4 533.0,942.1 536.5,942.1 540.0,940.1 543.5,941.9 547.0,941.2 550.5,942.4 554.0,941.8 557.5,943.2 560.0,942.5 564.5,942.7 568.0,942.3 571.5,941.5 575.0,941.7 578.5,941.2 582.0,942.2 585.5,941.6 589.0,942.1 592.5,939.6 596.0,942.2 600.0,941.0 603.0,940.8 606.5,940.3 610.0,941.5 613.5,940.4 617.0,939.8 620.5,940.1 624.0,942.9 627.5,941.3 631.0,939.8 634.5,941.4 638.0,939.4 640.0,941.4 641.5,939.4 645.0,941.9 648.5,941.9 652.0,939.3 655.5,941.4 659.0,942.2 662.5,941.5 666.0,941.2 669.5,942.0 673.0,940.9 676.5,941.0 680.0,940.4 683.5,941.3 687.0,939.2 690.5,941.3 694.0,939.6 697.5,938.8 700.0,940.1 704.5,941.6 708.0,940.1 712.6,941.0 715.0,940.4 718.5,939.9 722.0,936.8 725.3,938.4 729.0,937.1 732.5,935.8 736.0,935.3 737.9,936.7 739.5,936.9 743.0,936.4 746.5,933.8 748.4,933.2 750.0,930.9 753.7,925.8 757.0,924.1 759.0,922.6 760.5,923.6 763.2,924.7 767.5,917.7 769.5,915.3 771.0,913.2 774.5,908.4 775.8,906.8 778.0,903.9 781.0,898.4 785.3,892.1 788.5,895.9 790.5,897.4 792.0,899.5 795.8,903.7 800.0,915.3 802.5,917.2 806.3,917.4 809.5,922.6 813.7,927.9 816.5,928.8 820.0,929.0 823.5,932.2 826.3,932.1 830.5,934.6 834.0,935.6 837.5,936.2 841.0,938.9 843.2,940.5 844.5,941.1 848.0,940.3 851.5,939.9 855.8,939.5 858.5,941.1 862.0,940.5 866.3,941.0 869.0,940.7 872.5,941.9 876.8,943.7 879.5,942.8 883.0,942.5 885.3,941.6 886.5,942.0 890.0,941.2 893.5,942.6 897.9,942.6 900.5,941.9 904.0,940.5 907.5,942.3 911.0,942.1 914.5,942.8 918.0,941.1 921.5,943.1 925.0,947.2 928.5,940.9 932.0,943.0 935.5,942.1 939.0,942.8 942.5,940.2"/>
<polyline stroke="#ff0000" points="64.0,1116.5 67.5,1116.1 71.0,1116.0 74.5,1117.0 78.0,1113.4 81.5,1114.0 85.0,1113.1 88.5,1114.5 92.0,1115.9 95.5,1114.5 99.0,1115.1 102.5,1112.0 106.0,1114.5 109.5,1113.1 113.0,1116.4 116.5,1115.2 120.0,1114.0 123.5,1113.9 127.0,1114.8 130.5,1114.8 134.0,1113.5 137.5,1113.3 141.0,1113.8 144.5,1113.1 148.0,1113.1 151.5,1113.5 155.0,1112.9 158.5,1114.8 162.0,1111.8 165.5,1114.9 169.0,1113.0 172.5,1113.1 176.0,1112.0 179.5,1113.6 183.0,1113.4 186.5,1114.0 190.0,1113.0 193.5,1113.8 197.0,1116.1 200.0,1113.7 204.0,1115.0 207.5,1113.9 211.0,1114.9 212.6,1114.3 214.5,1113.6 218.0,1111.4 221.5,1112.5 225.3,1112.2 228.5,1112.9 232.0,1113.7 235.5,1112.0 239.0,1114.3 242.1,1113.0 246.0,1110.5 248.4,1107.8 253.0,1107.2 254.7,1106.7 256.5,1106.5 260.0,1104.0 264.2,1103.2 267.0,1098.3 269.5,1093.7 274.7,1076.8 277.5,1062.8 278.9,1055.8 281.0,1041.5 283.2,1026.3 284.5,1015.7 286.3,1001.0 288.0,995.2 290.5,1003.2 294.7,1028.4 297.9,1055.8 301.0,1083.2 304.2,1094.7 305.5,1096.2 309.5,1100.0 312.5,1103.2 315.8,1105.3 319.5,1107.8 324.2,1110.5 326.5,1112.0 330.0,1111.8 332.6,1112.2 337.0,1109.6 340.5,1111.6 344.0,1112.7 347.4,1112.6 351.0,1112.7 354.5,1113.2 358.0,1114.7 361.5,1113.7 365.0,1113.8 368.5,1115.0 372.6,1114.7 375.5,1115.1 379.0,1112.4 382.5,1115.7 386.0,1114.7 389.5,1113.7 393.0,1113.6 396.5,1112.4 400.0,1114.9 403.5,1114.7 407.0,1112.6 410.5,1111.8 414.0,1114.3 417.5,1113.6 421.0,1117.2 424.5,1113.0 428.0,1113.1 431.5,1113.7 435.0,1111.7 438.5,1112.7 442.0,1116.0 445.5,1113.7 449.0,1113.1 452.5,1112.2 456.0,1114.6 459.5,1114.7 463.0,1114.2 466.5,1113.4 470.0,1114.3 473.5,1114.4 477.0,1113.1 480.5,1114.8 484.0,1111.2 487.5,1112.3 491.0,1113.6 494.5,1113.8 498.0,1112.5 500.0,1114.0 501.5,1115.4 505.0,1114.6 508.5,1114.3 512.0,1115.1 515.5,1114.5 519.0,1112.5 522.5,1113.7 526.0,1115.7 529.5,1112.5 533.0,1114.1 536.5,1113.5 540.0,1112.8 543.5,1112.7 547.0,1114.1 550.5,1114.4 554.0,1114.4 557.5,1112.1 561.0,1113.6 564.5,1114.4 568.0,1115.2 571.5,1114.9 575.0,1115.1 578.5,1115.4 582.0,1115.1 585.5,1112.9 589.0,1114.1 592.5,1113.1 596.0,1110.9 600.0,1114.0 603.0,1112.7 606.5,1111.4 610.0,1113.5 613.5,1116.3 617.0,1114.4 620.5,1115.1 624.0,1114.3 627.5,1114.7 631.0,1116.4 634.5,1115.9 638.0,1114.9 641.5,1116.3 645.0,1116.6 648.5,1115.1 652.0,1115.8 655.5,1115.8 659.0,1114.8 662.5,1117.2 666.0,1115.6 669.5,1115.1 673.0,1113.9 676.5,1114.5 680.0,1116.2 683.5,1114.7 687.0,1116.4 690.5,1115.3 694.0,1116.3 697.5,1116.2 701.0,1114.4 702.7,1115.3 704.5,1114.8 708.0,1113.6 711.5,1112.3 715.0,1110.9 716.9,1110.5 718.5,1111.6 722.0,1110.2 725.5,1108.3 729.0,1108.9 732.5,1107.9 734.0,1107.6 736.0,1109.9 739.5,1108.0 743.9,1108.8 746.5,1104.8 749.6,1100.2 753.5,1100.3 756.7,1099.7 760.5,1094.7 764.0,1091.6 765.3,1089.7 767.5,1088.6 771.0,1085.8 775.2,1083.2 778.0,1084.4 782.3,1084.0 785.0,1085.5 788.0,1086.9 792.0,1092.8 793.7,1095.4 795.5,1098.4 799.4,1103.9 802.5,1105.5 805.0,1108.8 809.5,1110.6 813.0,1112.5 816.5,1112.1 820.0,1114.6 822.1,1113.3 823.5,1114.2 827.0,1113.0 830.5,1114.6 834.0,1113.4 837.5,1116.5 841.0,1116.0 844.8,1116.2 848.0,1114.2 851.5,1117.5 855.0,1118.0 858.5,1119.1 862.0,1116.0 865.5,1116.3 867.6,1117.3 869.0,1116.1 872.5,1115.3 876.0,1115.1 879.5,1118.5 883.0,1114.6 887.4,1114.5 890.0,1114.8 893.5,1116.5 897.0,1116.2 900.5,1116.2 904.5,1115.3 907.5,1115.0 911.0,1114.4 914.5,1118.7 918.0,1116.3 921.5,1118.3 924.4,1117.3 928.5,1116.8 932.0,1115.1 935.5,1116.2 939.0,1116.3 942.5,1116.5"/>
<path stroke="#00dd00" d="M60.5,1367.6 C62.9,1367.9 67.6,1369.2 75.0,1369.5 C82.4,1369.8 97.5,1369.9 105.0,1369.5 C112.5,1369.1 114.7,1367.4 120.0,1367.2 C125.3,1367.0 132.0,1368.5 137.0,1368.4 C142.0,1368.3 144.5,1366.7 150.0,1366.8 C155.5,1366.9 162.5,1368.7 170.0,1368.8 C177.5,1368.9 187.5,1367.3 195.0,1367.2 C202.5,1367.1 208.8,1368.2 215.0,1368.1 C221.2,1368.0 226.2,1367.2 232.0,1366.6 C237.8,1366.0 244.5,1365.7 249.5,1364.6 C254.5,1363.5 258.6,1361.3 262.1,1360.2 C265.6,1359.1 267.7,1359.9 270.5,1357.8 C273.3,1355.7 276.2,1352.0 279.0,1347.4 C281.8,1342.9 285.1,1337.9 287.4,1330.5 C289.7,1323.1 291.0,1315.8 292.6,1303.2 C294.2,1290.6 295.4,1269.8 296.8,1254.7 C298.2,1239.6 299.7,1224.5 301.1,1212.6 C302.5,1200.7 303.9,1189.7 305.3,1183.2 C306.7,1176.7 308.1,1173.7 309.5,1173.7 C310.9,1173.7 312.3,1176.7 313.7,1183.2 C315.1,1189.7 316.3,1199.6 317.9,1212.6 C319.5,1225.6 321.4,1245.9 323.2,1261.0 C324.9,1276.1 326.3,1291.3 328.4,1303.2 C330.5,1315.1 332.8,1324.5 335.8,1332.6 C338.8,1340.7 342.8,1346.7 346.3,1351.6 C349.8,1356.5 352.6,1359.6 356.8,1362.1 C361.0,1364.6 365.6,1365.5 371.6,1366.7 C377.6,1368.0 386.2,1369.0 392.6,1369.6 C399.0,1370.2 403.8,1370.1 410.0,1370.4 C416.2,1370.7 423.3,1371.4 430.0,1371.4 C436.7,1371.4 443.3,1370.5 450.0,1370.6 C456.7,1370.6 463.3,1371.7 470.0,1371.7 C476.7,1371.7 483.3,1370.6 490.0,1370.6 C496.7,1370.5 501.7,1371.5 510.0,1371.4 C518.3,1371.3 531.7,1370.1 540.0,1369.8 C548.3,1369.5 555.0,1369.6 560.0,1369.4 C565.0,1369.2 565.8,1368.4 570.0,1368.5 C574.2,1368.6 577.5,1369.9 585.0,1370.0 C592.5,1370.1 607.5,1368.9 615.0,1368.9 C622.5,1368.9 625.0,1369.9 630.0,1369.8 C635.0,1369.7 637.5,1368.1 645.0,1368.2 C652.5,1368.3 665.8,1370.1 675.0,1370.3 C684.2,1370.5 692.2,1369.8 700.0,1369.6 C707.8,1369.4 715.4,1369.2 721.7,1369.0 C728.0,1368.8 733.3,1369.6 737.9,1368.4 C742.5,1367.2 745.6,1363.9 749.5,1361.8 C753.4,1359.7 757.2,1358.5 761.1,1356.0 C765.0,1353.5 768.8,1350.2 772.6,1346.7 C776.5,1343.2 780.5,1338.9 784.2,1335.2 C787.9,1331.5 791.5,1325.5 794.6,1324.7 C797.7,1323.9 799.6,1326.8 802.7,1330.5 C805.8,1334.2 809.7,1342.5 813.2,1346.7 C816.7,1351.0 819.2,1352.9 823.6,1356.0 C828.0,1359.1 832.8,1363.2 839.8,1365.3 C846.8,1367.3 858.3,1367.4 865.3,1368.3 C872.2,1369.2 875.7,1370.2 881.5,1370.6 C887.3,1371.0 889.7,1371.0 900.0,1370.6 C910.3,1370.2 936.2,1368.4 943.5,1368.0"/>
</g>
<rect x="58.95" y="754.7" width="885.25" height="637.6" fill="none" stroke="#000" stroke-width="4"/>
<line x1="71.6" y1="1392.3" x2="71.6" y2="1381.0" stroke="#000" stroke-width="4"/>
<line x1="141.3" y1="1392.3" x2="141.3" y2="1387.0" stroke="#000" stroke-width="4"/>
<line x1="211.0" y1="1392.3" x2="211.0" y2="1381.0" stroke="#000" stroke-width="4"/>
<line x1="280.8" y1="1392.3" x2="280.8" y2="1387.0" stroke="#000" stroke-width="4"/>
<line x1="350.5" y1="1392.3" x2="350.5" y2="1381.0" stroke="#000" stroke-width="4"/>
<line x1="420.2" y1="1392.3" x2="420.2" y2="1387.0" stroke="#000" stroke-width="4"/>
<line x1="489.9" y1="1392.3" x2="489.9" y2="1381.0" stroke="#000" stroke-width="4"/>
<line x1="559.7" y1="1392.3" x2="559.7" y2="1387.0" stroke="#000" stroke-width="4"/>
<line x1="629.4" y1="1392.3" x2="629.4" y2="1381.0" stroke="#000" stroke-width="4"/>
<line x1="699.1" y1="1392.3" x2="699.1" y2="1387.0" stroke="#000" stroke-width="4"/>
<line x1="768.9" y1="1392.3" x2="768.9" y2="1381.0" stroke="#000" stroke-width="4"/>
<line x1="838.6" y1="1392.3" x2="838.6" y2="1387.0" stroke="#000" stroke-width="4"/>
<line x1="908.3" y1="1392.3" x2="908.3" y2="1381.0" stroke="#000" stroke-width="4"/>
<text class="sa" x="71.6" y="1425.8" font-size="27.0" text-anchor="middle" >40</text>
<text class="sa" x="211.0" y="1425.8" font-size="27.0" text-anchor="middle" >42</text>
<text class="sa" x="350.5" y="1425.8" font-size="27.0" text-anchor="middle" >44</text>
<text class="sa" x="489.9" y="1425.8" font-size="27.0" text-anchor="middle" >46</text>
<text class="sa" x="629.4" y="1425.8" font-size="27.0" text-anchor="middle" >48</text>
<text class="sa" x="768.9" y="1425.8" font-size="27.0" text-anchor="middle" >50</text>
<text class="sa" x="908.3" y="1425.8" font-size="27.0" text-anchor="middle" >52</text>
<text class="se" x="66.84" y="808.00" font-size="46.80" textLength="60.02" lengthAdjust="spacingAndGlyphs">(b)</text>
<g transform="translate(217.9,800.1)"><path d="M0.2,-7.0 C0.6,-10.0 2.0,-11.3 3.0,-11.2 C4.6,-11.0 5.6,-6.5 6.4,-2.2" fill="none" stroke="#000" stroke-width="1.5" stroke-linecap="round"/>
<path d="M8.4,-11.35 L12.0,-11.25 C11.0,-8.5 9.0,-5.0 7.3,-1.4 C7.6,0.2 7.9,2.0 7.8,3.8 C7.7,5.3 6.9,5.8 5.9,5.8 C4.9,5.8 4.1,5.0 4.2,3.8 C4.3,2.2 5.3,0.3 5.9,-1.4 C6.6,-4.5 7.7,-8.0 8.4,-11.35 Z" fill="#000"/></g>
<text class="se" x="235.34" y="800.10" font-size="25.00" textLength="64.53" lengthAdjust="spacingAndGlyphs"><tspan class="rp">(</tspan>1 1 1<tspan class="rp">)</tspan></text>
<g transform="translate(707.9,867.2)"><path d="M0.2,-7.0 C0.6,-10.0 2.0,-11.3 3.0,-11.2 C4.6,-11.0 5.6,-6.5 6.4,-2.2" fill="none" stroke="#000" stroke-width="1.5" stroke-linecap="round"/>
<path d="M8.4,-11.35 L12.0,-11.25 C11.0,-8.5 9.0,-5.0 7.3,-1.4 C7.6,0.2 7.9,2.0 7.8,3.8 C7.7,5.3 6.9,5.8 5.9,5.8 C4.9,5.8 4.1,5.0 4.2,3.8 C4.3,2.2 5.3,0.3 5.9,-1.4 C6.6,-4.5 7.7,-8.0 8.4,-11.35 Z" fill="#000"/></g>
<text class="se" x="725.32" y="867.20" font-size="25.00" textLength="65.77" lengthAdjust="spacingAndGlyphs"><tspan class="rp">(</tspan>2 0 0<tspan class="rp">)</tspan></text>
<g transform="translate(221.8,986.8)"><path d="M0.2,-7.0 C0.6,-10.0 2.0,-11.3 3.0,-11.2 C4.6,-11.0 5.6,-6.5 6.4,-2.2" fill="none" stroke="#000" stroke-width="1.5" stroke-linecap="round"/>
<path d="M8.4,-11.35 L12.0,-11.25 C11.0,-8.5 9.0,-5.0 7.3,-1.4 C7.6,0.2 7.9,2.0 7.8,3.8 C7.7,5.3 6.9,5.8 5.9,5.8 C4.9,5.8 4.1,5.0 4.2,3.8 C4.3,2.2 5.3,0.3 5.9,-1.4 C6.6,-4.5 7.7,-8.0 8.4,-11.35 Z" fill="#000"/></g>
<text class="se" x="239.23" y="986.80" font-size="25.00" textLength="65.04" lengthAdjust="spacingAndGlyphs"><tspan class="rp">(</tspan>1 1 1<tspan class="rp">)</tspan></text>
<g transform="translate(706.8,1068.6)"><path d="M0.2,-7.0 C0.6,-10.0 2.0,-11.3 3.0,-11.2 C4.6,-11.0 5.6,-6.5 6.4,-2.2" fill="none" stroke="#000" stroke-width="1.5" stroke-linecap="round"/>
<path d="M8.4,-11.35 L12.0,-11.25 C11.0,-8.5 9.0,-5.0 7.3,-1.4 C7.6,0.2 7.9,2.0 7.8,3.8 C7.7,5.3 6.9,5.8 5.9,5.8 C4.9,5.8 4.1,5.0 4.2,3.8 C4.3,2.2 5.3,0.3 5.9,-1.4 C6.6,-4.5 7.7,-8.0 8.4,-11.35 Z" fill="#000"/></g>
<text class="se" x="724.22" y="1068.60" font-size="25.00" textLength="65.25" lengthAdjust="spacingAndGlyphs"><tspan class="rp">(</tspan>2 0 0<tspan class="rp">)</tspan></text>
<g transform="translate(215.7,1164.7)"><path d="M0.2,-7.0 C0.6,-10.0 2.0,-11.3 3.0,-11.2 C4.6,-11.0 5.6,-6.5 6.4,-2.2" fill="none" stroke="#000" stroke-width="1.5" stroke-linecap="round"/>
<path d="M8.4,-11.35 L12.0,-11.25 C11.0,-8.5 9.0,-5.0 7.3,-1.4 C7.6,0.2 7.9,2.0 7.8,3.8 C7.7,5.3 6.9,5.8 5.9,5.8 C4.9,5.8 4.1,5.0 4.2,3.8 C4.3,2.2 5.3,0.3 5.9,-1.4 C6.6,-4.5 7.7,-8.0 8.4,-11.35 Z" fill="#000"/></g>
<text class="se" x="233.11" y="1164.70" font-size="25.00" textLength="66.18" lengthAdjust="spacingAndGlyphs"><tspan class="rp">(</tspan>1 1 1<tspan class="rp">)</tspan></text>
<g transform="translate(703.9,1311.8)"><path d="M0.2,-7.0 C0.6,-10.0 2.0,-11.3 3.0,-11.2 C4.6,-11.0 5.6,-6.5 6.4,-2.2" fill="none" stroke="#000" stroke-width="1.5" stroke-linecap="round"/>
<path d="M8.4,-11.35 L12.0,-11.25 C11.0,-8.5 9.0,-5.0 7.3,-1.4 C7.6,0.2 7.9,2.0 7.8,3.8 C7.7,5.3 6.9,5.8 5.9,5.8 C4.9,5.8 4.1,5.0 4.2,3.8 C4.3,2.2 5.3,0.3 5.9,-1.4 C6.6,-4.5 7.7,-8.0 8.4,-11.35 Z" fill="#000"/></g>
<text class="se" x="721.32" y="1311.80" font-size="25.00" textLength="65.46" lengthAdjust="spacingAndGlyphs"><tspan class="rp">(</tspan>2 0 0<tspan class="rp">)</tspan></text>
<text class="sa" x="460.95" y="1450.70" font-size="33.20" textLength="80.90" lengthAdjust="spacingAndGlyphs">2&#952; <tspan class="rg">(&#176;)</tspan></text>
<text class="sa" x="-2.19" y="0" font-size="32.50" textLength="218.14" lengthAdjust="spacingAndGlyphs" transform="translate(33.30,1179.90) rotate(-90)">Intensity / a.u.</text>
</svg>
</body></html>
